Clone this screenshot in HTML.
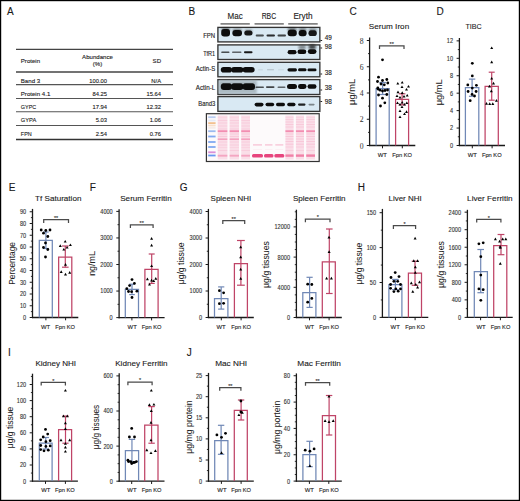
<!DOCTYPE html><html><head><meta charset="utf-8"><style>html,body{margin:0;padding:0;background:#fff;overflow:hidden;}svg{display:block;}text{font-family:"Liberation Sans",sans-serif;}</style></head><body><svg width="520" height="501" viewBox="0 0 520 501" font-family="Liberation Sans, sans-serif">
<defs><filter id="bl" x="-20%" y="-60%" width="140%" height="220%"><feGaussianBlur stdDeviation="0.75"/></filter><filter id="bl2" x="-20%" y="-80%" width="140%" height="260%"><feGaussianBlur stdDeviation="0.9"/></filter><filter id="bl3" x="-10%" y="-10%" width="120%" height="120%"><feGaussianBlur stdDeviation="0.4"/></filter><filter id="bl4" x="-20%" y="-100%" width="140%" height="300%"><feGaussianBlur stdDeviation="0.6"/></filter><filter id="bl5" x="-20%" y="-100%" width="140%" height="300%"><feGaussianBlur stdDeviation="0.75"/></filter></defs>
<rect x="0" y="0" width="520" height="501" fill="#fff"/>
<text x="7" y="14.8" font-size="10.0" text-anchor="start" fill="#1a1a1a" stroke="#1a1a1a" stroke-width="0.12" >A</text>
<text x="188.5" y="14.8" font-size="10.0" text-anchor="start" fill="#1a1a1a" stroke="#1a1a1a" stroke-width="0.12" >B</text>
<text x="349.5" y="14.8" font-size="10.0" text-anchor="start" fill="#1a1a1a" stroke="#1a1a1a" stroke-width="0.12" >C</text>
<text x="436.5" y="14.8" font-size="10.0" text-anchor="start" fill="#1a1a1a" stroke="#1a1a1a" stroke-width="0.12" >D</text>
<text x="8.8" y="190.6" font-size="10.0" text-anchor="start" fill="#1a1a1a" stroke="#1a1a1a" stroke-width="0.12" >E</text>
<text x="89.8" y="190.8" font-size="10.0" text-anchor="start" fill="#1a1a1a" stroke="#1a1a1a" stroke-width="0.12" >F</text>
<text x="179.8" y="190.9" font-size="10.0" text-anchor="start" fill="#1a1a1a" stroke="#1a1a1a" stroke-width="0.12" >G</text>
<text x="357.8" y="190.6" font-size="10.0" text-anchor="start" fill="#1a1a1a" stroke="#1a1a1a" stroke-width="0.12" >H</text>
<text x="8.1" y="355.9" font-size="10.0" text-anchor="start" fill="#1a1a1a" stroke="#1a1a1a" stroke-width="0.12" >I</text>
<text x="186.8" y="355.9" font-size="10.0" text-anchor="start" fill="#1a1a1a" stroke="#1a1a1a" stroke-width="0.12" >J</text>
<line x1="16" y1="49.4" x2="173" y2="49.4" stroke="#444" stroke-width="1.4"/>
<line x1="16" y1="72" x2="173" y2="72" stroke="#444" stroke-width="1.6"/>
<line x1="16" y1="84.6" x2="173" y2="84.6" stroke="#555" stroke-width="1.1"/>
<line x1="16" y1="98.5" x2="173" y2="98.5" stroke="#555" stroke-width="1.1"/>
<line x1="16" y1="111.8" x2="173" y2="111.8" stroke="#555" stroke-width="1.1"/>
<line x1="16" y1="125.5" x2="173" y2="125.5" stroke="#555" stroke-width="1.1"/>
<line x1="16" y1="139.5" x2="173" y2="139.5" stroke="#333" stroke-width="1.4"/>
<text x="20.8" y="63.2" font-size="6.1" text-anchor="start" fill="#222" stroke="#222" stroke-width="0.12" >Protein</text>
<text x="97.5" y="58.7" font-size="6.1" text-anchor="middle" fill="#222" stroke="#222" stroke-width="0.12" >Abundance</text>
<text x="97.5" y="66.2" font-size="6.1" text-anchor="middle" fill="#222" stroke="#222" stroke-width="0.12" >(%)</text>
<text x="156.8" y="63.4" font-size="6.1" text-anchor="middle" fill="#222" stroke="#222" stroke-width="0.12" >SD</text>
<text x="20.8" y="82.5" font-size="6.1" text-anchor="start" fill="#222" stroke="#222" stroke-width="0.12" >Band 3</text>
<text x="107" y="82.5" font-size="5.8" text-anchor="end" fill="#222" stroke="#222" stroke-width="0.12" >100.00</text>
<text x="161" y="82.5" font-size="5.8" text-anchor="end" fill="#222" stroke="#222" stroke-width="0.12" >N/A</text>
<text x="20.8" y="95.6" font-size="6.1" text-anchor="start" fill="#222" stroke="#222" stroke-width="0.12" >Protein 4.1</text>
<text x="107" y="95.6" font-size="5.8" text-anchor="end" fill="#222" stroke="#222" stroke-width="0.12" >84.25</text>
<text x="161" y="95.6" font-size="5.8" text-anchor="end" fill="#222" stroke="#222" stroke-width="0.12" >15.64</text>
<text x="20.8" y="108.9" font-size="6.1" text-anchor="start" fill="#222" stroke="#222" stroke-width="0.12" textLength="15.4" lengthAdjust="spacingAndGlyphs">GYPC</text>
<text x="107" y="108.9" font-size="5.8" text-anchor="end" fill="#222" stroke="#222" stroke-width="0.12" >17.94</text>
<text x="161" y="108.9" font-size="5.8" text-anchor="end" fill="#222" stroke="#222" stroke-width="0.12" >12.32</text>
<text x="20.8" y="122.3" font-size="6.1" text-anchor="start" fill="#222" stroke="#222" stroke-width="0.12" textLength="15.4" lengthAdjust="spacingAndGlyphs">GYPA</text>
<text x="107" y="122.3" font-size="5.8" text-anchor="end" fill="#222" stroke="#222" stroke-width="0.12" >5.03</text>
<text x="161" y="122.3" font-size="5.8" text-anchor="end" fill="#222" stroke="#222" stroke-width="0.12" >1.06</text>
<text x="20.8" y="135.7" font-size="6.1" text-anchor="start" fill="#222" stroke="#222" stroke-width="0.12" textLength="10.9" lengthAdjust="spacingAndGlyphs">FPN</text>
<text x="107" y="135.7" font-size="5.8" text-anchor="end" fill="#222" stroke="#222" stroke-width="0.12" >2.54</text>
<text x="161" y="135.7" font-size="5.8" text-anchor="end" fill="#222" stroke="#222" stroke-width="0.12" >0.76</text>
<text x="235.1" y="19.2" font-size="8.3" text-anchor="middle" fill="#222" stroke="#222" stroke-width="0.12" textLength="15.2" lengthAdjust="spacingAndGlyphs">Mac</text>
<text x="268.9" y="19.2" font-size="8.3" text-anchor="middle" fill="#222" stroke="#222" stroke-width="0.12" textLength="14.5" lengthAdjust="spacingAndGlyphs">RBC</text>
<text x="303" y="19.2" font-size="8.3" text-anchor="middle" fill="#222" stroke="#222" stroke-width="0.12" textLength="19.2" lengthAdjust="spacingAndGlyphs">Eryth</text>
<line x1="220.5" y1="23.9" x2="249.8" y2="23.9" stroke="#666" stroke-width="1.4"/>
<line x1="254.5" y1="23.9" x2="283.8" y2="23.9" stroke="#666" stroke-width="1.4"/>
<line x1="288.2" y1="23.9" x2="317.7" y2="23.9" stroke="#666" stroke-width="1.4"/>
<rect x="217.9" y="27.4" width="101.95" height="14.5" fill="#d9e9f3" stroke="#333" stroke-width="1.35"/>
<text x="215.2" y="37.7" font-size="6.3" text-anchor="end" fill="#222" stroke="#222" stroke-width="0.12" textLength="12.0" lengthAdjust="spacingAndGlyphs">FPN</text>
<rect x="217.9" y="44.9" width="101.95" height="14.6" fill="#d9e9f3" stroke="#333" stroke-width="1.35"/>
<text x="215.2" y="56.4" font-size="6.3" text-anchor="end" fill="#222" stroke="#222" stroke-width="0.12" textLength="12.0" lengthAdjust="spacingAndGlyphs">TfR1</text>
<rect x="217.9" y="62.3" width="101.95" height="14.5" fill="#d9e9f3" stroke="#333" stroke-width="1.35"/>
<text x="215.2" y="71.2" font-size="6.3" text-anchor="end" fill="#222" stroke="#222" stroke-width="0.12" textLength="19.4" lengthAdjust="spacingAndGlyphs">Actin-S</text>
<rect x="217.9" y="79.6" width="101.95" height="14.9" fill="#d9e9f3" stroke="#333" stroke-width="1.35"/>
<text x="215.2" y="89.7" font-size="6.3" text-anchor="end" fill="#222" stroke="#222" stroke-width="0.12" textLength="19.4" lengthAdjust="spacingAndGlyphs">Actin-L</text>
<rect x="217.9" y="96.6" width="101.95" height="14.8" fill="#d9e9f3" stroke="#333" stroke-width="1.35"/>
<text x="215.2" y="105.7" font-size="6.3" text-anchor="end" fill="#222" stroke="#222" stroke-width="0.12" textLength="16.9" lengthAdjust="spacingAndGlyphs">Band3</text>
<line x1="320.45" y1="40.5" x2="322.15" y2="40.5" stroke="#222" stroke-width="1.0"/>
<text x="324.8" y="40.2" font-size="6.4" text-anchor="start" fill="#222" stroke="#222" stroke-width="0.12" >49</text>
<line x1="320.45" y1="48" x2="322.15" y2="48" stroke="#222" stroke-width="1.0"/>
<text x="324.8" y="48.5" font-size="6.4" text-anchor="start" fill="#222" stroke="#222" stroke-width="0.12" >98</text>
<line x1="320.45" y1="74" x2="322.15" y2="74" stroke="#222" stroke-width="1.0"/>
<text x="324.8" y="74.5" font-size="6.4" text-anchor="start" fill="#222" stroke="#222" stroke-width="0.12" >38</text>
<line x1="320.45" y1="90" x2="322.15" y2="90" stroke="#222" stroke-width="1.0"/>
<text x="324.8" y="89.6" font-size="6.4" text-anchor="start" fill="#222" stroke="#222" stroke-width="0.12" >38</text>
<line x1="320.45" y1="101.5" x2="322.15" y2="101.5" stroke="#222" stroke-width="1.0"/>
<text x="324.8" y="103.6" font-size="6.4" text-anchor="start" fill="#222" stroke="#222" stroke-width="0.12" >98</text>
<rect x="221.5" y="27.9" width="8.3" height="3.4" rx="1.7" fill="#0a0a0a" opacity="0.6" filter="url(#bl2)"/>
<rect x="232.6" y="28.9" width="9.2" height="3" rx="1.5" fill="#0a0a0a" opacity="0.5" filter="url(#bl2)"/>
<rect x="244.6" y="29.8" width="7.7" height="2.4" rx="1.2" fill="#0a0a0a" opacity="0.4" filter="url(#bl2)"/>
<rect x="221.2" y="29.1" width="8.8" height="7.4" rx="3" fill="#0a0a0a" opacity="1.0" filter="url(#bl)"/>
<rect x="232.4" y="29.9" width="9.6" height="6.4" rx="3" fill="#0a0a0a" opacity="1.0" filter="url(#bl)"/>
<rect x="244.3" y="30.5" width="8.2" height="5" rx="2.5" fill="#0a0a0a" opacity="0.95" filter="url(#bl)"/>
<rect x="255.7" y="34.6" width="8.2" height="2" rx="1" fill="#0a0a0a" opacity="0.7" filter="url(#bl)"/>
<rect x="266.5" y="34.4" width="8.5" height="2.2" rx="1.1" fill="#0a0a0a" opacity="0.85" filter="url(#bl)"/>
<rect x="277.5" y="34.6" width="8.5" height="2" rx="1" fill="#0a0a0a" opacity="0.75" filter="url(#bl)"/>
<rect x="287.8" y="27.9" width="8.8" height="3.4" rx="1.7" fill="#0a0a0a" opacity="0.6" filter="url(#bl2)"/>
<rect x="298.8" y="28.3" width="7.6" height="3.2" rx="1.6" fill="#0a0a0a" opacity="0.55" filter="url(#bl2)"/>
<rect x="308.7" y="28.7" width="7.9" height="3" rx="1.5" fill="#0a0a0a" opacity="0.5" filter="url(#bl2)"/>
<rect x="287.6" y="29.7" width="9.2" height="6.6" rx="3" fill="#0a0a0a" opacity="1.0" filter="url(#bl)"/>
<rect x="298.6" y="30.1" width="8" height="6.2" rx="3" fill="#0a0a0a" opacity="1.0" filter="url(#bl)"/>
<rect x="308.5" y="30.3" width="8.3" height="5.8" rx="2.9" fill="#0a0a0a" opacity="0.95" filter="url(#bl)"/>
<rect x="221.2" y="51.45" width="8.3" height="1.5" rx="0.75" fill="#0a0a0a" opacity="0.7" filter="url(#bl)"/>
<rect x="232" y="51.6" width="9.5" height="1.4" rx="0.7" fill="#0a0a0a" opacity="0.6" filter="url(#bl)"/>
<rect x="244" y="51.3" width="8.5" height="2" rx="1" fill="#0a0a0a" opacity="0.95" filter="url(#bl)"/>
<rect x="287.6" y="50.1" width="8.9" height="4.2" rx="2.1" fill="#0a0a0a" opacity="1.0" filter="url(#bl)"/>
<rect x="297.5" y="49.5" width="8.8" height="4.6" rx="2.3" fill="#0a0a0a" opacity="1.0" filter="url(#bl)"/>
<rect x="307.8" y="49.2" width="8.7" height="4.8" rx="2.4" fill="#0a0a0a" opacity="1.0" filter="url(#bl)"/>
<rect x="298.5" y="45.3" width="7.5" height="4" rx="2" fill="#0a0a0a" opacity="0.45" filter="url(#bl2)"/>
<rect x="308.5" y="44.8" width="7.5" height="4.4" rx="2.2" fill="#0a0a0a" opacity="0.75" filter="url(#bl2)"/>
<rect x="220.8" y="66.9" width="11.2" height="5.6" rx="2.8" fill="#0a0a0a" opacity="1.0" filter="url(#bl)"/>
<rect x="231.2" y="66.9" width="12.2" height="5.6" rx="2.8" fill="#0a0a0a" opacity="1.0" filter="url(#bl)"/>
<rect x="242.6" y="67" width="12" height="5.4" rx="2.7" fill="#0a0a0a" opacity="1.0" filter="url(#bl)"/>
<rect x="258" y="69.5" width="5" height="0.8" rx="0.4" fill="#0a0a0a" opacity="0.12" filter="url(#bl)"/>
<rect x="267" y="69.3" width="7" height="1" rx="0.5" fill="#0a0a0a" opacity="0.2" filter="url(#bl)"/>
<rect x="278" y="69.5" width="6" height="0.8" rx="0.4" fill="#0a0a0a" opacity="0.1" filter="url(#bl)"/>
<rect x="287.5" y="68.2" width="9.5" height="3.2" rx="1.6" fill="#0a0a0a" opacity="1.0" filter="url(#bl)"/>
<rect x="298" y="68.3" width="8.5" height="3" rx="1.5" fill="#0a0a0a" opacity="1.0" filter="url(#bl)"/>
<rect x="307.5" y="68.5" width="9" height="2.8" rx="1.4" fill="#0a0a0a" opacity="1.0" filter="url(#bl)"/>
<rect x="218.3" y="80.4" width="38.5" height="13.4" fill="#8d9aa0" opacity="0.6" filter="url(#bl2)"/>
<rect x="220.8" y="83.2" width="11.2" height="6.8" rx="3" fill="#0a0a0a" opacity="1.0" filter="url(#bl)"/>
<rect x="231.2" y="83.2" width="12.2" height="6.8" rx="3" fill="#0a0a0a" opacity="1.0" filter="url(#bl)"/>
<rect x="242.6" y="83.3" width="12.4" height="6.6" rx="3" fill="#0a0a0a" opacity="1.0" filter="url(#bl)"/>
<rect x="255.5" y="86.4" width="8.5" height="1.6" rx="0.8" fill="#0a0a0a" opacity="0.7" filter="url(#bl)"/>
<rect x="266" y="86.2" width="8.5" height="1.8" rx="0.9" fill="#0a0a0a" opacity="0.75" filter="url(#bl)"/>
<rect x="277.5" y="86.4" width="8" height="1.6" rx="0.8" fill="#0a0a0a" opacity="0.6" filter="url(#bl)"/>
<rect x="287" y="84" width="10" height="5" rx="2.5" fill="#0a0a0a" opacity="1.0" filter="url(#bl)"/>
<rect x="298" y="84.1" width="8.5" height="4.8" rx="2.4" fill="#0a0a0a" opacity="1.0" filter="url(#bl)"/>
<rect x="307.5" y="84.2" width="9" height="4.6" rx="2.3" fill="#0a0a0a" opacity="1.0" filter="url(#bl)"/>
<rect x="254.6" y="102.8" width="8.9" height="3.6" rx="1.8" fill="#0a0a0a" opacity="1.0" filter="url(#bl)"/>
<rect x="265.5" y="102.7" width="8.7" height="3.6" rx="1.8" fill="#0a0a0a" opacity="1.0" filter="url(#bl)"/>
<rect x="276" y="102.8" width="9" height="3.4" rx="1.7" fill="#0a0a0a" opacity="1.0" filter="url(#bl)"/>
<rect x="287.2" y="102.8" width="8.3" height="3.4" rx="1.7" fill="#0a0a0a" opacity="1.0" filter="url(#bl)"/>
<rect x="298" y="103.5" width="7.5" height="2.2" rx="1.1" fill="#0a0a0a" opacity="0.9" filter="url(#bl)"/>
<rect x="308.5" y="103.8" width="6.1" height="1.6" rx="0.8" fill="#0a0a0a" opacity="0.45" filter="url(#bl)"/>
<rect x="206.4" y="113.7" width="112.8" height="47.8" fill="#fdfafb" stroke="#333" stroke-width="1.2"/>
<rect x="208.2" y="116.3" width="7.4" height="1.8" fill="#9ab8ee" opacity="0.68" filter="url(#bl4)"/>
<rect x="208.2" y="119.6" width="7.4" height="1.8" fill="#c8d8f0" opacity="0.42" filter="url(#bl4)"/>
<rect x="208.2" y="122.2" width="7.4" height="1.8" fill="#f0b070" opacity="0.77" filter="url(#bl4)"/>
<rect x="208.2" y="124.6" width="7.4" height="1.8" fill="#f4c8a0" opacity="0.51" filter="url(#bl4)"/>
<rect x="208.2" y="127" width="7.4" height="1.8" fill="#e8d4c8" opacity="0.34" filter="url(#bl4)"/>
<rect x="208.2" y="130.3" width="7.4" height="1.8" fill="#80a8ec" opacity="0.77" filter="url(#bl4)"/>
<rect x="208.2" y="135.6" width="7.4" height="1.8" fill="#6c9cf0" opacity="0.85" filter="url(#bl4)"/>
<rect x="208.2" y="141.1" width="7.4" height="1.8" fill="#6c9cf0" opacity="0.85" filter="url(#bl4)"/>
<rect x="208.2" y="146.1" width="7.4" height="1.8" fill="#6c9cf0" opacity="0.85" filter="url(#bl4)"/>
<rect x="208.2" y="151.4" width="7.4" height="1.8" fill="#d070d0" opacity="0.77" filter="url(#bl4)"/>
<rect x="208.2" y="154.6" width="7.4" height="1.8" fill="#5088f0" opacity="0.85" filter="url(#bl4)"/>
<rect x="217.7" y="115.5" width="9.7" height="44" fill="#f9d3e1" opacity="0.7" filter="url(#bl3)"/>
<rect x="217.7" y="116.8" width="9.7" height="1" fill="#ee5a8e" opacity="0.08" filter="url(#bl4)"/>
<rect x="217.7" y="120" width="9.7" height="1" fill="#ee5a8e" opacity="0.12" filter="url(#bl4)"/>
<rect x="217.7" y="122.5" width="9.7" height="1" fill="#ee5a8e" opacity="0.12" filter="url(#bl4)"/>
<rect x="217.7" y="125.5" width="9.7" height="1" fill="#ee5a8e" opacity="0.12" filter="url(#bl4)"/>
<rect x="217.7" y="128.5" width="9.7" height="1" fill="#ee5a8e" opacity="0.12" filter="url(#bl4)"/>
<rect x="217.7" y="130.25" width="9.7" height="1.9" fill="#ee5a8e" opacity="0.6" filter="url(#bl4)"/>
<rect x="217.7" y="133.5" width="9.7" height="1" fill="#ee5a8e" opacity="0.14" filter="url(#bl4)"/>
<rect x="217.7" y="136" width="9.7" height="1" fill="#ee5a8e" opacity="0.14" filter="url(#bl4)"/>
<rect x="217.7" y="138.4" width="9.7" height="1.6" fill="#ee5a8e" opacity="0.45" filter="url(#bl4)"/>
<rect x="217.7" y="141.5" width="9.7" height="1" fill="#ee5a8e" opacity="0.12" filter="url(#bl4)"/>
<rect x="217.7" y="144.5" width="9.7" height="1" fill="#ee5a8e" opacity="0.12" filter="url(#bl4)"/>
<rect x="217.7" y="147" width="9.7" height="1" fill="#ee5a8e" opacity="0.08" filter="url(#bl4)"/>
<rect x="217.7" y="150" width="9.7" height="1" fill="#ee5a8e" opacity="0.12" filter="url(#bl4)"/>
<rect x="217.7" y="154.75" width="9.7" height="1.9" fill="#ee5a8e" opacity="0.42" filter="url(#bl4)"/>
<rect x="229.6" y="115.5" width="9.4" height="44" fill="#f9d3e1" opacity="0.7" filter="url(#bl3)"/>
<rect x="229.6" y="116.8" width="9.4" height="1" fill="#ee5a8e" opacity="0.08" filter="url(#bl4)"/>
<rect x="229.6" y="120" width="9.4" height="1" fill="#ee5a8e" opacity="0.12" filter="url(#bl4)"/>
<rect x="229.6" y="122.5" width="9.4" height="1" fill="#ee5a8e" opacity="0.12" filter="url(#bl4)"/>
<rect x="229.6" y="125.5" width="9.4" height="1" fill="#ee5a8e" opacity="0.12" filter="url(#bl4)"/>
<rect x="229.6" y="128.5" width="9.4" height="1" fill="#ee5a8e" opacity="0.12" filter="url(#bl4)"/>
<rect x="229.6" y="130.25" width="9.4" height="1.9" fill="#ee5a8e" opacity="0.6" filter="url(#bl4)"/>
<rect x="229.6" y="133.5" width="9.4" height="1" fill="#ee5a8e" opacity="0.14" filter="url(#bl4)"/>
<rect x="229.6" y="136" width="9.4" height="1" fill="#ee5a8e" opacity="0.14" filter="url(#bl4)"/>
<rect x="229.6" y="138.4" width="9.4" height="1.6" fill="#ee5a8e" opacity="0.45" filter="url(#bl4)"/>
<rect x="229.6" y="141.5" width="9.4" height="1" fill="#ee5a8e" opacity="0.12" filter="url(#bl4)"/>
<rect x="229.6" y="144.5" width="9.4" height="1" fill="#ee5a8e" opacity="0.12" filter="url(#bl4)"/>
<rect x="229.6" y="147" width="9.4" height="1" fill="#ee5a8e" opacity="0.08" filter="url(#bl4)"/>
<rect x="229.6" y="150" width="9.4" height="1" fill="#ee5a8e" opacity="0.12" filter="url(#bl4)"/>
<rect x="229.6" y="154.75" width="9.4" height="1.9" fill="#ee5a8e" opacity="0.42" filter="url(#bl4)"/>
<rect x="241.2" y="115.5" width="8.8" height="44" fill="#f9d3e1" opacity="0.7" filter="url(#bl3)"/>
<rect x="241.2" y="116.8" width="8.8" height="1" fill="#ee5a8e" opacity="0.08" filter="url(#bl4)"/>
<rect x="241.2" y="120" width="8.8" height="1" fill="#ee5a8e" opacity="0.12" filter="url(#bl4)"/>
<rect x="241.2" y="122.5" width="8.8" height="1" fill="#ee5a8e" opacity="0.12" filter="url(#bl4)"/>
<rect x="241.2" y="125.5" width="8.8" height="1" fill="#ee5a8e" opacity="0.12" filter="url(#bl4)"/>
<rect x="241.2" y="128.5" width="8.8" height="1" fill="#ee5a8e" opacity="0.12" filter="url(#bl4)"/>
<rect x="241.2" y="130.25" width="8.8" height="1.9" fill="#ee5a8e" opacity="0.6" filter="url(#bl4)"/>
<rect x="241.2" y="133.5" width="8.8" height="1" fill="#ee5a8e" opacity="0.14" filter="url(#bl4)"/>
<rect x="241.2" y="136" width="8.8" height="1" fill="#ee5a8e" opacity="0.14" filter="url(#bl4)"/>
<rect x="241.2" y="138.4" width="8.8" height="1.6" fill="#ee5a8e" opacity="0.45" filter="url(#bl4)"/>
<rect x="241.2" y="141.5" width="8.8" height="1" fill="#ee5a8e" opacity="0.12" filter="url(#bl4)"/>
<rect x="241.2" y="144.5" width="8.8" height="1" fill="#ee5a8e" opacity="0.12" filter="url(#bl4)"/>
<rect x="241.2" y="147" width="8.8" height="1" fill="#ee5a8e" opacity="0.08" filter="url(#bl4)"/>
<rect x="241.2" y="150" width="8.8" height="1" fill="#ee5a8e" opacity="0.12" filter="url(#bl4)"/>
<rect x="241.2" y="154.75" width="8.8" height="1.9" fill="#ee5a8e" opacity="0.42" filter="url(#bl4)"/>
<rect x="285.4" y="115.5" width="8.2" height="44" fill="#f9d3e1" opacity="0.7" filter="url(#bl3)"/>
<rect x="285.4" y="116.8" width="8.2" height="1" fill="#ee5a8e" opacity="0.1" filter="url(#bl4)"/>
<rect x="285.4" y="119" width="8.2" height="1" fill="#ee5a8e" opacity="0.12" filter="url(#bl4)"/>
<rect x="285.4" y="121.5" width="8.2" height="1" fill="#ee5a8e" opacity="0.14" filter="url(#bl4)"/>
<rect x="285.4" y="124" width="8.2" height="1" fill="#ee5a8e" opacity="0.14" filter="url(#bl4)"/>
<rect x="285.4" y="126.5" width="8.2" height="1" fill="#ee5a8e" opacity="0.14" filter="url(#bl4)"/>
<rect x="285.4" y="130.25" width="8.2" height="1.9" fill="#ee5a8e" opacity="0.6" filter="url(#bl4)"/>
<rect x="285.4" y="133.5" width="8.2" height="1" fill="#ee5a8e" opacity="0.16" filter="url(#bl4)"/>
<rect x="285.4" y="136" width="8.2" height="1" fill="#ee5a8e" opacity="0.16" filter="url(#bl4)"/>
<rect x="285.4" y="138.5" width="8.2" height="1" fill="#ee5a8e" opacity="0.16" filter="url(#bl4)"/>
<rect x="285.4" y="141" width="8.2" height="1" fill="#ee5a8e" opacity="0.16" filter="url(#bl4)"/>
<rect x="285.4" y="143.7" width="8.2" height="1" fill="#ee5a8e" opacity="0.18" filter="url(#bl4)"/>
<rect x="285.4" y="146.5" width="8.2" height="1" fill="#ee5a8e" opacity="0.12" filter="url(#bl4)"/>
<rect x="285.4" y="150" width="8.2" height="1" fill="#ee5a8e" opacity="0.1" filter="url(#bl4)"/>
<rect x="285.4" y="154.4" width="8.2" height="2.4" fill="#ee5a8e" opacity="0.7" filter="url(#bl4)"/>
<rect x="295.9" y="115.5" width="8.1" height="44" fill="#f9d3e1" opacity="0.7" filter="url(#bl3)"/>
<rect x="295.9" y="116.8" width="8.1" height="1" fill="#ee5a8e" opacity="0.1" filter="url(#bl4)"/>
<rect x="295.9" y="119" width="8.1" height="1" fill="#ee5a8e" opacity="0.12" filter="url(#bl4)"/>
<rect x="295.9" y="121.5" width="8.1" height="1" fill="#ee5a8e" opacity="0.14" filter="url(#bl4)"/>
<rect x="295.9" y="124" width="8.1" height="1" fill="#ee5a8e" opacity="0.14" filter="url(#bl4)"/>
<rect x="295.9" y="126.5" width="8.1" height="1" fill="#ee5a8e" opacity="0.14" filter="url(#bl4)"/>
<rect x="295.9" y="130.25" width="8.1" height="1.9" fill="#ee5a8e" opacity="0.6" filter="url(#bl4)"/>
<rect x="295.9" y="133.5" width="8.1" height="1" fill="#ee5a8e" opacity="0.16" filter="url(#bl4)"/>
<rect x="295.9" y="136" width="8.1" height="1" fill="#ee5a8e" opacity="0.16" filter="url(#bl4)"/>
<rect x="295.9" y="138.5" width="8.1" height="1" fill="#ee5a8e" opacity="0.16" filter="url(#bl4)"/>
<rect x="295.9" y="141" width="8.1" height="1" fill="#ee5a8e" opacity="0.16" filter="url(#bl4)"/>
<rect x="295.9" y="143.7" width="8.1" height="1" fill="#ee5a8e" opacity="0.18" filter="url(#bl4)"/>
<rect x="295.9" y="146.5" width="8.1" height="1" fill="#ee5a8e" opacity="0.12" filter="url(#bl4)"/>
<rect x="295.9" y="150" width="8.1" height="1" fill="#ee5a8e" opacity="0.1" filter="url(#bl4)"/>
<rect x="295.9" y="154.4" width="8.1" height="2.4" fill="#ee5a8e" opacity="0.7" filter="url(#bl4)"/>
<rect x="306.2" y="115.5" width="8.8" height="44" fill="#f9d3e1" opacity="0.7" filter="url(#bl3)"/>
<rect x="306.2" y="116.8" width="8.8" height="1" fill="#ee5a8e" opacity="0.1" filter="url(#bl4)"/>
<rect x="306.2" y="119" width="8.8" height="1" fill="#ee5a8e" opacity="0.12" filter="url(#bl4)"/>
<rect x="306.2" y="121.5" width="8.8" height="1" fill="#ee5a8e" opacity="0.14" filter="url(#bl4)"/>
<rect x="306.2" y="124" width="8.8" height="1" fill="#ee5a8e" opacity="0.14" filter="url(#bl4)"/>
<rect x="306.2" y="126.5" width="8.8" height="1" fill="#ee5a8e" opacity="0.14" filter="url(#bl4)"/>
<rect x="306.2" y="130.25" width="8.8" height="1.9" fill="#ee5a8e" opacity="0.6" filter="url(#bl4)"/>
<rect x="306.2" y="133.5" width="8.8" height="1" fill="#ee5a8e" opacity="0.16" filter="url(#bl4)"/>
<rect x="306.2" y="136" width="8.8" height="1" fill="#ee5a8e" opacity="0.16" filter="url(#bl4)"/>
<rect x="306.2" y="138.5" width="8.8" height="1" fill="#ee5a8e" opacity="0.16" filter="url(#bl4)"/>
<rect x="306.2" y="141" width="8.8" height="1" fill="#ee5a8e" opacity="0.16" filter="url(#bl4)"/>
<rect x="306.2" y="143.7" width="8.8" height="1" fill="#ee5a8e" opacity="0.18" filter="url(#bl4)"/>
<rect x="306.2" y="146.5" width="8.8" height="1" fill="#ee5a8e" opacity="0.12" filter="url(#bl4)"/>
<rect x="306.2" y="150" width="8.8" height="1" fill="#ee5a8e" opacity="0.1" filter="url(#bl4)"/>
<rect x="306.2" y="154.4" width="8.8" height="2.4" fill="#ee5a8e" opacity="0.7" filter="url(#bl4)"/>
<rect x="253" y="144.25" width="9" height="1.3" fill="#ee5a8e" opacity="0.35" filter="url(#bl4)"/>
<rect x="252" y="153.9" width="11" height="3.7" rx="1.5" fill="#e63c78" opacity="0.95" filter="url(#bl4)"/>
<rect x="253" y="149" width="9" height="1" fill="#ee5a8e" opacity="0.06" filter="url(#bl4)"/>
<rect x="265" y="144.25" width="7.5" height="1.3" fill="#ee5a8e" opacity="0.35" filter="url(#bl4)"/>
<rect x="264" y="153.9" width="9.5" height="3.7" rx="1.5" fill="#e63c78" opacity="0.95" filter="url(#bl4)"/>
<rect x="265" y="149" width="7.5" height="1" fill="#ee5a8e" opacity="0.06" filter="url(#bl4)"/>
<rect x="275.3" y="144.25" width="8" height="1.3" fill="#ee5a8e" opacity="0.35" filter="url(#bl4)"/>
<rect x="274.3" y="153.9" width="10" height="3.7" rx="1.5" fill="#e63c78" opacity="0.95" filter="url(#bl4)"/>
<rect x="275.3" y="149" width="8" height="1" fill="#ee5a8e" opacity="0.06" filter="url(#bl4)"/>
<line x1="369.6" y1="37.5" x2="369.6" y2="146.1" stroke="#1a1a1a" stroke-width="1.3"/>
<line x1="369" y1="145.5" x2="415.3" y2="145.5" stroke="#1a1a1a" stroke-width="1.3"/>
<line x1="366.8" y1="145.5" x2="369.6" y2="145.5" stroke="#1a1a1a" stroke-width="1.0"/>
<text x="363.7" y="148.7" font-size="7.7" text-anchor="end" fill="#3a3a3a" stroke="#3a3a3a" stroke-width="0.05" style="font-family:Liberation Serif">0</text>
<line x1="366.8" y1="119.25" x2="369.6" y2="119.25" stroke="#1a1a1a" stroke-width="1.0"/>
<text x="363.7" y="122.45" font-size="7.7" text-anchor="end" fill="#3a3a3a" stroke="#3a3a3a" stroke-width="0.05" style="font-family:Liberation Serif">2</text>
<line x1="366.8" y1="93" x2="369.6" y2="93" stroke="#1a1a1a" stroke-width="1.0"/>
<text x="363.7" y="96.2" font-size="7.7" text-anchor="end" fill="#3a3a3a" stroke="#3a3a3a" stroke-width="0.05" style="font-family:Liberation Serif">4</text>
<line x1="366.8" y1="66.75" x2="369.6" y2="66.75" stroke="#1a1a1a" stroke-width="1.0"/>
<text x="363.7" y="69.95" font-size="7.7" text-anchor="end" fill="#3a3a3a" stroke="#3a3a3a" stroke-width="0.05" style="font-family:Liberation Serif">6</text>
<line x1="366.8" y1="40.5" x2="369.6" y2="40.5" stroke="#1a1a1a" stroke-width="1.0"/>
<text x="363.7" y="43.7" font-size="7.7" text-anchor="end" fill="#3a3a3a" stroke="#3a3a3a" stroke-width="0.05" style="font-family:Liberation Serif">8</text>
<line x1="368" y1="132.38" x2="369.6" y2="132.38" stroke="#1a1a1a" stroke-width="0.9"/>
<line x1="368" y1="106.12" x2="369.6" y2="106.12" stroke="#1a1a1a" stroke-width="0.9"/>
<line x1="368" y1="79.88" x2="369.6" y2="79.88" stroke="#1a1a1a" stroke-width="0.9"/>
<line x1="368" y1="53.62" x2="369.6" y2="53.62" stroke="#1a1a1a" stroke-width="0.9"/>
<path d="M376.1 145.5V88.5H389.2V145.5" fill="none" stroke="#7088b6" stroke-width="1.25"/>
<path d="M395.6 145.5V99.3H408.6V145.5" fill="none" stroke="#bf4467" stroke-width="1.25"/>
<line x1="382.5" y1="145.5" x2="382.5" y2="148.3" stroke="#1a1a1a" stroke-width="1.0"/>
<line x1="402.3" y1="145.5" x2="402.3" y2="148.3" stroke="#1a1a1a" stroke-width="1.0"/>
<line x1="382.65" y1="82.5" x2="382.65" y2="94.5" stroke="#7088b6" stroke-width="1.2"/>
<line x1="379.35" y1="82.5" x2="385.95" y2="82.5" stroke="#7088b6" stroke-width="1.2"/>
<line x1="379.35" y1="94.5" x2="385.95" y2="94.5" stroke="#7088b6" stroke-width="1.2"/>
<line x1="402.1" y1="93.8" x2="402.1" y2="104.8" stroke="#bf4467" stroke-width="1.2"/>
<line x1="398.8" y1="93.8" x2="405.4" y2="93.8" stroke="#bf4467" stroke-width="1.2"/>
<line x1="398.8" y1="104.8" x2="405.4" y2="104.8" stroke="#bf4467" stroke-width="1.2"/>
<circle cx="382.5" cy="59.8" r="1.4" fill="#000"/>
<circle cx="378.5" cy="77.2" r="1.4" fill="#000"/>
<circle cx="382.5" cy="80.5" r="1.4" fill="#000"/>
<circle cx="386.8" cy="79.5" r="1.4" fill="#000"/>
<circle cx="377.5" cy="81.5" r="1.4" fill="#000"/>
<circle cx="387.8" cy="83" r="1.4" fill="#000"/>
<circle cx="381" cy="84" r="1.4" fill="#000"/>
<circle cx="384.3" cy="84.8" r="1.4" fill="#000"/>
<circle cx="377.8" cy="88" r="1.4" fill="#000"/>
<circle cx="380" cy="90.2" r="1.4" fill="#000"/>
<circle cx="382.5" cy="91" r="1.4" fill="#000"/>
<circle cx="385" cy="90.5" r="1.4" fill="#000"/>
<circle cx="387.5" cy="90" r="1.4" fill="#000"/>
<circle cx="378" cy="89" r="1.4" fill="#000"/>
<circle cx="378.5" cy="95" r="1.4" fill="#000"/>
<circle cx="386.8" cy="94.5" r="1.4" fill="#000"/>
<circle cx="382.5" cy="98.2" r="1.4" fill="#000"/>
<circle cx="384.8" cy="102.8" r="1.4" fill="#000"/>
<circle cx="380.5" cy="106" r="1.4" fill="#000"/>
<path d="M397.8 81.88L399.3 84.58L396.3 84.58Z" fill="#000"/>
<path d="M402.2 80.88L403.7 83.58L400.7 83.58Z" fill="#000"/>
<path d="M408.5 84.88L410 87.58L407 87.58Z" fill="#000"/>
<path d="M402 85.38L403.5 88.08L400.5 88.08Z" fill="#000"/>
<path d="M406.5 87.88L408 90.58L405 90.58Z" fill="#000"/>
<path d="M398 90.58L399.5 93.28L396.5 93.28Z" fill="#000"/>
<path d="M402.2 91.18L403.7 93.88L400.7 93.88Z" fill="#000"/>
<path d="M397 94.38L398.5 97.08L395.5 97.08Z" fill="#000"/>
<path d="M407.2 93.88L408.7 96.58L405.7 96.58Z" fill="#000"/>
<path d="M400 95.88L401.5 98.58L398.5 98.58Z" fill="#000"/>
<path d="M404 94.88L405.5 97.58L402.5 97.58Z" fill="#000"/>
<path d="M397.5 101.38L399 104.08L396 104.08Z" fill="#000"/>
<path d="M400 102.88L401.5 105.58L398.5 105.58Z" fill="#000"/>
<path d="M402.2 100.88L403.7 103.58L400.7 103.58Z" fill="#000"/>
<path d="M404.5 102.88L406 105.58L403 105.58Z" fill="#000"/>
<path d="M406.8 101.38L408.3 104.08L405.3 104.08Z" fill="#000"/>
<path d="M402 105.38L403.5 108.08L400.5 108.08Z" fill="#000"/>
<path d="M400 109.38L401.5 112.08L398.5 112.08Z" fill="#000"/>
<path d="M406.5 110.18L408 112.88L405 112.88Z" fill="#000"/>
<path d="M404.5 112.38L406 115.08L403 115.08Z" fill="#000"/>
<path d="M400 115.38L401.5 118.08L398.5 118.08Z" fill="#000"/>
<path d="M379.5 49V45.8H404V49" fill="none" stroke="#4a4a4a" stroke-width="1.25"/>
<text x="391.75" y="46.1" font-size="5.5" text-anchor="middle" fill="#333" stroke="#333" stroke-width="0.12" >**</text>
<text x="368.8" y="28.5" font-size="8.1" text-anchor="start" fill="#222" stroke="#222" stroke-width="0.12" textLength="40.4" lengthAdjust="spacingAndGlyphs">Serum Iron</text>
<text x="0" y="0" font-size="9.3" text-anchor="middle" fill="#222" stroke="#222" stroke-width="0.04" transform="translate(354.6,91.9) rotate(-90)">μg/mL</text>
<text x="382.3" y="156.8" font-size="6.0" text-anchor="middle" fill="#222" stroke="#222" stroke-width="0.12" textLength="9.2" lengthAdjust="spacingAndGlyphs">WT</text>
<text x="402.2" y="156.8" font-size="6.0" text-anchor="middle" fill="#222" stroke="#222" stroke-width="0.12" textLength="19.7" lengthAdjust="spacingAndGlyphs">Fpn KO</text>
<line x1="459.4" y1="38" x2="459.4" y2="146.1" stroke="#1a1a1a" stroke-width="1.3"/>
<line x1="458.8" y1="145.5" x2="505" y2="145.5" stroke="#1a1a1a" stroke-width="1.3"/>
<line x1="456.6" y1="145.5" x2="459.4" y2="145.5" stroke="#1a1a1a" stroke-width="1.0"/>
<text x="453" y="147.9" font-size="6.3" text-anchor="end" fill="#333" stroke="#333" stroke-width="0.12" textLength="3.1" lengthAdjust="spacingAndGlyphs">0</text>
<line x1="456.6" y1="128.06" x2="459.4" y2="128.06" stroke="#1a1a1a" stroke-width="1.0"/>
<text x="453" y="130.46" font-size="6.3" text-anchor="end" fill="#333" stroke="#333" stroke-width="0.12" textLength="3.1" lengthAdjust="spacingAndGlyphs">2</text>
<line x1="456.6" y1="110.62" x2="459.4" y2="110.62" stroke="#1a1a1a" stroke-width="1.0"/>
<text x="453" y="113.02" font-size="6.3" text-anchor="end" fill="#333" stroke="#333" stroke-width="0.12" textLength="3.1" lengthAdjust="spacingAndGlyphs">4</text>
<line x1="456.6" y1="93.18" x2="459.4" y2="93.18" stroke="#1a1a1a" stroke-width="1.0"/>
<text x="453" y="95.58" font-size="6.3" text-anchor="end" fill="#333" stroke="#333" stroke-width="0.12" textLength="3.1" lengthAdjust="spacingAndGlyphs">6</text>
<line x1="456.6" y1="75.74" x2="459.4" y2="75.74" stroke="#1a1a1a" stroke-width="1.0"/>
<text x="453" y="78.14" font-size="6.3" text-anchor="end" fill="#333" stroke="#333" stroke-width="0.12" textLength="3.1" lengthAdjust="spacingAndGlyphs">8</text>
<line x1="456.6" y1="58.3" x2="459.4" y2="58.3" stroke="#1a1a1a" stroke-width="1.0"/>
<text x="453" y="60.7" font-size="6.3" text-anchor="end" fill="#333" stroke="#333" stroke-width="0.12" textLength="6.2" lengthAdjust="spacingAndGlyphs">10</text>
<line x1="456.6" y1="40.86" x2="459.4" y2="40.86" stroke="#1a1a1a" stroke-width="1.0"/>
<text x="453" y="43.26" font-size="6.3" text-anchor="end" fill="#333" stroke="#333" stroke-width="0.12" textLength="6.2" lengthAdjust="spacingAndGlyphs">12</text>
<line x1="457.8" y1="136.78" x2="459.4" y2="136.78" stroke="#1a1a1a" stroke-width="0.9"/>
<line x1="457.8" y1="119.34" x2="459.4" y2="119.34" stroke="#1a1a1a" stroke-width="0.9"/>
<line x1="457.8" y1="101.9" x2="459.4" y2="101.9" stroke="#1a1a1a" stroke-width="0.9"/>
<line x1="457.8" y1="84.46" x2="459.4" y2="84.46" stroke="#1a1a1a" stroke-width="0.9"/>
<line x1="457.8" y1="67.02" x2="459.4" y2="67.02" stroke="#1a1a1a" stroke-width="0.9"/>
<line x1="457.8" y1="49.58" x2="459.4" y2="49.58" stroke="#1a1a1a" stroke-width="0.9"/>
<path d="M465.4 145.5V87.7H478.8V145.5" fill="none" stroke="#7088b6" stroke-width="1.25"/>
<path d="M485.1 145.5V86.3H498.3V145.5" fill="none" stroke="#bf4467" stroke-width="1.25"/>
<line x1="472.3" y1="145.5" x2="472.3" y2="148.3" stroke="#1a1a1a" stroke-width="1.0"/>
<line x1="492.1" y1="145.5" x2="492.1" y2="148.3" stroke="#1a1a1a" stroke-width="1.0"/>
<line x1="472.1" y1="79.1" x2="472.1" y2="96.3" stroke="#7088b6" stroke-width="1.2"/>
<line x1="468.9" y1="79.1" x2="475.3" y2="79.1" stroke="#7088b6" stroke-width="1.2"/>
<line x1="468.9" y1="96.3" x2="475.3" y2="96.3" stroke="#7088b6" stroke-width="1.2"/>
<line x1="491.7" y1="72.2" x2="491.7" y2="100.2" stroke="#bf4467" stroke-width="1.2"/>
<line x1="488.7" y1="72.2" x2="494.7" y2="72.2" stroke="#bf4467" stroke-width="1.2"/>
<line x1="488.7" y1="100.2" x2="494.7" y2="100.2" stroke="#bf4467" stroke-width="1.2"/>
<circle cx="472.3" cy="63.3" r="1.4" fill="#000"/>
<circle cx="472.3" cy="75.9" r="1.4" fill="#000"/>
<circle cx="467.8" cy="84.9" r="1.4" fill="#000"/>
<circle cx="476.4" cy="85.3" r="1.4" fill="#000"/>
<circle cx="472.3" cy="88.1" r="1.4" fill="#000"/>
<circle cx="468.1" cy="91.5" r="1.4" fill="#000"/>
<circle cx="476.1" cy="91.5" r="1.4" fill="#000"/>
<circle cx="472.1" cy="94.4" r="1.4" fill="#000"/>
<circle cx="474.5" cy="96" r="1.4" fill="#000"/>
<circle cx="470.2" cy="100.7" r="1.4" fill="#000"/>
<path d="M491.7 46.38L493.2 49.08L490.2 49.08Z" fill="#000"/>
<path d="M491.7 60.48L493.2 63.18L490.2 63.18Z" fill="#000"/>
<path d="M491.7 76.88L493.2 79.58L490.2 79.58Z" fill="#000"/>
<path d="M493.5 81.68L495 84.38L492 84.38Z" fill="#000"/>
<path d="M489.5 84.68L491 87.38L488 87.38Z" fill="#000"/>
<path d="M491.3 89.58L492.8 92.28L489.8 92.28Z" fill="#000"/>
<path d="M486.5 101.98L488 104.68L485 104.68Z" fill="#000"/>
<path d="M489.7 102.28L491.2 104.98L488.2 104.98Z" fill="#000"/>
<path d="M492.8 102.28L494.3 104.98L491.3 104.98Z" fill="#000"/>
<path d="M496.4 99.08L497.9 101.78L494.9 101.78Z" fill="#000"/>
<text x="465.4" y="28.5" font-size="8.1" text-anchor="start" fill="#222" stroke="#222" stroke-width="0.12" textLength="16.2" lengthAdjust="spacingAndGlyphs">TIBC</text>
<text x="0" y="0" font-size="9.3" text-anchor="middle" fill="#222" stroke="#222" stroke-width="0.04" transform="translate(441.5,92.3) rotate(-90)">μg/mL</text>
<text x="472.3" y="156.8" font-size="6.0" text-anchor="middle" fill="#222" stroke="#222" stroke-width="0.12" textLength="9.2" lengthAdjust="spacingAndGlyphs">WT</text>
<text x="491.8" y="156.8" font-size="6.0" text-anchor="middle" fill="#222" stroke="#222" stroke-width="0.12" textLength="19.7" lengthAdjust="spacingAndGlyphs">Fpn KO</text>
<line x1="32.5" y1="208.9" x2="32.5" y2="318.1" stroke="#1a1a1a" stroke-width="1.3"/>
<line x1="31.9" y1="317.5" x2="78.3" y2="317.5" stroke="#1a1a1a" stroke-width="1.3"/>
<line x1="29.7" y1="317.5" x2="32.5" y2="317.5" stroke="#1a1a1a" stroke-width="1.0"/>
<text x="26.1" y="319.9" font-size="6.3" text-anchor="end" fill="#333" stroke="#333" stroke-width="0.12" textLength="3.1" lengthAdjust="spacingAndGlyphs">0</text>
<line x1="29.7" y1="305.75" x2="32.5" y2="305.75" stroke="#1a1a1a" stroke-width="1.0"/>
<text x="26.1" y="308.15" font-size="6.3" text-anchor="end" fill="#333" stroke="#333" stroke-width="0.12" textLength="6.2" lengthAdjust="spacingAndGlyphs">10</text>
<line x1="29.7" y1="294" x2="32.5" y2="294" stroke="#1a1a1a" stroke-width="1.0"/>
<text x="26.1" y="296.4" font-size="6.3" text-anchor="end" fill="#333" stroke="#333" stroke-width="0.12" textLength="6.2" lengthAdjust="spacingAndGlyphs">20</text>
<line x1="29.7" y1="282.25" x2="32.5" y2="282.25" stroke="#1a1a1a" stroke-width="1.0"/>
<text x="26.1" y="284.65" font-size="6.3" text-anchor="end" fill="#333" stroke="#333" stroke-width="0.12" textLength="6.2" lengthAdjust="spacingAndGlyphs">30</text>
<line x1="29.7" y1="270.5" x2="32.5" y2="270.5" stroke="#1a1a1a" stroke-width="1.0"/>
<text x="26.1" y="272.9" font-size="6.3" text-anchor="end" fill="#333" stroke="#333" stroke-width="0.12" textLength="6.2" lengthAdjust="spacingAndGlyphs">40</text>
<line x1="29.7" y1="258.75" x2="32.5" y2="258.75" stroke="#1a1a1a" stroke-width="1.0"/>
<text x="26.1" y="261.15" font-size="6.3" text-anchor="end" fill="#333" stroke="#333" stroke-width="0.12" textLength="6.2" lengthAdjust="spacingAndGlyphs">50</text>
<line x1="29.7" y1="247" x2="32.5" y2="247" stroke="#1a1a1a" stroke-width="1.0"/>
<text x="26.1" y="249.4" font-size="6.3" text-anchor="end" fill="#333" stroke="#333" stroke-width="0.12" textLength="6.2" lengthAdjust="spacingAndGlyphs">60</text>
<line x1="29.7" y1="235.25" x2="32.5" y2="235.25" stroke="#1a1a1a" stroke-width="1.0"/>
<text x="26.1" y="237.65" font-size="6.3" text-anchor="end" fill="#333" stroke="#333" stroke-width="0.12" textLength="6.2" lengthAdjust="spacingAndGlyphs">70</text>
<line x1="29.7" y1="223.5" x2="32.5" y2="223.5" stroke="#1a1a1a" stroke-width="1.0"/>
<text x="26.1" y="225.9" font-size="6.3" text-anchor="end" fill="#333" stroke="#333" stroke-width="0.12" textLength="6.2" lengthAdjust="spacingAndGlyphs">80</text>
<line x1="29.7" y1="211.75" x2="32.5" y2="211.75" stroke="#1a1a1a" stroke-width="1.0"/>
<text x="26.1" y="214.15" font-size="6.3" text-anchor="end" fill="#333" stroke="#333" stroke-width="0.12" textLength="6.2" lengthAdjust="spacingAndGlyphs">90</text>
<line x1="30.9" y1="311.62" x2="32.5" y2="311.62" stroke="#1a1a1a" stroke-width="0.9"/>
<line x1="30.9" y1="299.88" x2="32.5" y2="299.88" stroke="#1a1a1a" stroke-width="0.9"/>
<line x1="30.9" y1="288.12" x2="32.5" y2="288.12" stroke="#1a1a1a" stroke-width="0.9"/>
<line x1="30.9" y1="276.38" x2="32.5" y2="276.38" stroke="#1a1a1a" stroke-width="0.9"/>
<line x1="30.9" y1="264.62" x2="32.5" y2="264.62" stroke="#1a1a1a" stroke-width="0.9"/>
<line x1="30.9" y1="252.88" x2="32.5" y2="252.88" stroke="#1a1a1a" stroke-width="0.9"/>
<line x1="30.9" y1="241.12" x2="32.5" y2="241.12" stroke="#1a1a1a" stroke-width="0.9"/>
<line x1="30.9" y1="229.38" x2="32.5" y2="229.38" stroke="#1a1a1a" stroke-width="0.9"/>
<line x1="30.9" y1="217.62" x2="32.5" y2="217.62" stroke="#1a1a1a" stroke-width="0.9"/>
<path d="M39.3 317.5V240.3H52.3V317.5" fill="none" stroke="#7088b6" stroke-width="1.25"/>
<path d="M58.65 317.5V257.2H71.8V317.5" fill="none" stroke="#bf4467" stroke-width="1.25"/>
<line x1="45.9" y1="317.5" x2="45.9" y2="320.3" stroke="#1a1a1a" stroke-width="1.0"/>
<line x1="65.6" y1="317.5" x2="65.6" y2="320.3" stroke="#1a1a1a" stroke-width="1.0"/>
<line x1="45.9" y1="232" x2="45.9" y2="248.5" stroke="#7088b6" stroke-width="1.2"/>
<line x1="43.1" y1="232" x2="48.7" y2="232" stroke="#7088b6" stroke-width="1.2"/>
<line x1="43.1" y1="248.5" x2="48.7" y2="248.5" stroke="#7088b6" stroke-width="1.2"/>
<line x1="65.3" y1="246" x2="65.3" y2="267.2" stroke="#bf4467" stroke-width="1.2"/>
<line x1="62" y1="246" x2="68.6" y2="246" stroke="#bf4467" stroke-width="1.2"/>
<line x1="62" y1="267.2" x2="68.6" y2="267.2" stroke="#bf4467" stroke-width="1.2"/>
<circle cx="41.2" cy="230" r="1.4" fill="#000"/>
<circle cx="45.8" cy="230.5" r="1.4" fill="#000"/>
<circle cx="50" cy="230" r="1.4" fill="#000"/>
<circle cx="43.5" cy="233.2" r="1.4" fill="#000"/>
<circle cx="47.8" cy="236.5" r="1.4" fill="#000"/>
<circle cx="45.5" cy="243" r="1.4" fill="#000"/>
<circle cx="43.5" cy="247.5" r="1.4" fill="#000"/>
<circle cx="47.8" cy="249.5" r="1.4" fill="#000"/>
<circle cx="45.5" cy="257" r="1.4" fill="#000"/>
<path d="M65.2 239.88L66.7 242.58L63.7 242.58Z" fill="#000"/>
<path d="M60.3 244.18L61.8 246.88L58.8 246.88Z" fill="#000"/>
<path d="M70.4 243.38L71.9 246.08L68.9 246.08Z" fill="#000"/>
<path d="M67.1 245.88L68.6 248.58L65.6 248.58Z" fill="#000"/>
<path d="M63.8 247.88L65.3 250.58L62.3 250.58Z" fill="#000"/>
<path d="M65.5 263.08L67 265.78L64 265.78Z" fill="#000"/>
<path d="M61.2 270.28L62.7 272.98L59.7 272.98Z" fill="#000"/>
<path d="M65.5 272.78L67 275.48L64 275.48Z" fill="#000"/>
<path d="M69.7 271.08L71.2 273.78L68.2 273.78Z" fill="#000"/>
<path d="M43.7 222.9V219.7H68.5V222.9" fill="none" stroke="#4a4a4a" stroke-width="1.25"/>
<text x="56.1" y="220" font-size="5.5" text-anchor="middle" fill="#333" stroke="#333" stroke-width="0.12" >**</text>
<text x="35.1" y="200.9" font-size="8.1" text-anchor="start" fill="#222" stroke="#222" stroke-width="0.12" textLength="46.3" lengthAdjust="spacingAndGlyphs">Tf Saturation</text>
<text x="0" y="0" font-size="8.35" text-anchor="middle" fill="#222" stroke="#222" stroke-width="0.04" transform="translate(14.7,263.4) rotate(-90)">Percentage</text>
<text x="45.6" y="328.8" font-size="6.0" text-anchor="middle" fill="#222" stroke="#222" stroke-width="0.12" textLength="9.2" lengthAdjust="spacingAndGlyphs">WT</text>
<text x="65.2" y="328.8" font-size="6.0" text-anchor="middle" fill="#222" stroke="#222" stroke-width="0.12" textLength="19.7" lengthAdjust="spacingAndGlyphs">Fpn KO</text>
<line x1="119.1" y1="209.2" x2="119.1" y2="318.2" stroke="#1a1a1a" stroke-width="1.3"/>
<line x1="118.5" y1="317.6" x2="164.6" y2="317.6" stroke="#1a1a1a" stroke-width="1.3"/>
<line x1="116.3" y1="317.6" x2="119.1" y2="317.6" stroke="#1a1a1a" stroke-width="1.0"/>
<text x="112.7" y="320" font-size="6.3" text-anchor="end" fill="#333" stroke="#333" stroke-width="0.12" textLength="3.1" lengthAdjust="spacingAndGlyphs">0</text>
<line x1="116.3" y1="291.05" x2="119.1" y2="291.05" stroke="#1a1a1a" stroke-width="1.0"/>
<text x="112.7" y="293.45" font-size="6.3" text-anchor="end" fill="#333" stroke="#333" stroke-width="0.12" textLength="12.4" lengthAdjust="spacingAndGlyphs">1000</text>
<line x1="116.3" y1="264.5" x2="119.1" y2="264.5" stroke="#1a1a1a" stroke-width="1.0"/>
<text x="112.7" y="266.9" font-size="6.3" text-anchor="end" fill="#333" stroke="#333" stroke-width="0.12" textLength="12.4" lengthAdjust="spacingAndGlyphs">2000</text>
<line x1="116.3" y1="237.95" x2="119.1" y2="237.95" stroke="#1a1a1a" stroke-width="1.0"/>
<text x="112.7" y="240.35" font-size="6.3" text-anchor="end" fill="#333" stroke="#333" stroke-width="0.12" textLength="12.4" lengthAdjust="spacingAndGlyphs">3000</text>
<line x1="116.3" y1="211.4" x2="119.1" y2="211.4" stroke="#1a1a1a" stroke-width="1.0"/>
<text x="112.7" y="213.8" font-size="6.3" text-anchor="end" fill="#333" stroke="#333" stroke-width="0.12" textLength="12.4" lengthAdjust="spacingAndGlyphs">4000</text>
<line x1="117.5" y1="304.33" x2="119.1" y2="304.33" stroke="#1a1a1a" stroke-width="0.9"/>
<line x1="117.5" y1="277.78" x2="119.1" y2="277.78" stroke="#1a1a1a" stroke-width="0.9"/>
<line x1="117.5" y1="251.23" x2="119.1" y2="251.23" stroke="#1a1a1a" stroke-width="0.9"/>
<line x1="117.5" y1="224.68" x2="119.1" y2="224.68" stroke="#1a1a1a" stroke-width="0.9"/>
<path d="M125.3 317.6V289.4H138.5V317.6" fill="none" stroke="#7088b6" stroke-width="1.25"/>
<path d="M144.9 317.6V269.4H158.1V317.6" fill="none" stroke="#bf4467" stroke-width="1.25"/>
<line x1="131.9" y1="317.6" x2="131.9" y2="320.4" stroke="#1a1a1a" stroke-width="1.0"/>
<line x1="151.6" y1="317.6" x2="151.6" y2="320.4" stroke="#1a1a1a" stroke-width="1.0"/>
<line x1="132" y1="284.2" x2="132" y2="294.6" stroke="#7088b6" stroke-width="1.2"/>
<line x1="129.2" y1="284.2" x2="134.8" y2="284.2" stroke="#7088b6" stroke-width="1.2"/>
<line x1="129.2" y1="294.6" x2="134.8" y2="294.6" stroke="#7088b6" stroke-width="1.2"/>
<line x1="151.7" y1="254" x2="151.7" y2="283.4" stroke="#bf4467" stroke-width="1.2"/>
<line x1="148.7" y1="254" x2="154.7" y2="254" stroke="#bf4467" stroke-width="1.2"/>
<line x1="148.7" y1="283.4" x2="154.7" y2="283.4" stroke="#bf4467" stroke-width="1.2"/>
<circle cx="132" cy="279.6" r="1.4" fill="#000"/>
<circle cx="134.4" cy="283.4" r="1.4" fill="#000"/>
<circle cx="129.6" cy="285.6" r="1.4" fill="#000"/>
<circle cx="126.8" cy="288.7" r="1.4" fill="#000"/>
<circle cx="131.6" cy="291.7" r="1.4" fill="#000"/>
<circle cx="136.9" cy="291.2" r="1.4" fill="#000"/>
<circle cx="128.5" cy="291.5" r="1.4" fill="#000"/>
<circle cx="132" cy="297.5" r="1.4" fill="#000"/>
<path d="M151.6 237.08L153.1 239.78L150.1 239.78Z" fill="#000"/>
<path d="M151.6 243.78L153.1 246.48L150.1 246.48Z" fill="#000"/>
<path d="M151.6 264.38L153.1 267.08L150.1 267.08Z" fill="#000"/>
<path d="M147.4 277.58L148.9 280.28L145.9 280.28Z" fill="#000"/>
<path d="M151.6 278.68L153.1 281.38L150.1 281.38Z" fill="#000"/>
<path d="M155.8 276.98L157.3 279.68L154.3 279.68Z" fill="#000"/>
<path d="M153.7 279.38L155.2 282.08L152.2 282.08Z" fill="#000"/>
<path d="M149.5 282.88L151 285.58L148 285.58Z" fill="#000"/>
<path d="M130.4 228V224.8H153.1V228" fill="none" stroke="#4a4a4a" stroke-width="1.25"/>
<text x="141.75" y="225.1" font-size="5.5" text-anchor="middle" fill="#333" stroke="#333" stroke-width="0.12" >**</text>
<text x="120.2" y="200.8" font-size="8.1" text-anchor="start" fill="#222" stroke="#222" stroke-width="0.12" textLength="51.5" lengthAdjust="spacingAndGlyphs">Serum Ferritin</text>
<text x="0" y="0" font-size="8.9" text-anchor="middle" fill="#222" stroke="#222" stroke-width="0.04" transform="translate(95.2,263.5) rotate(-90)">ng/mL</text>
<text x="132.2" y="328.9" font-size="6.0" text-anchor="middle" fill="#222" stroke="#222" stroke-width="0.12" textLength="9.2" lengthAdjust="spacingAndGlyphs">WT</text>
<text x="151.6" y="328.9" font-size="6.0" text-anchor="middle" fill="#222" stroke="#222" stroke-width="0.12" textLength="19.7" lengthAdjust="spacingAndGlyphs">Fpn KO</text>
<line x1="208.4" y1="208.9" x2="208.4" y2="318.1" stroke="#1a1a1a" stroke-width="1.3"/>
<line x1="207.8" y1="317.5" x2="253.8" y2="317.5" stroke="#1a1a1a" stroke-width="1.3"/>
<line x1="205.6" y1="317.5" x2="208.4" y2="317.5" stroke="#1a1a1a" stroke-width="1.0"/>
<text x="202" y="319.9" font-size="6.3" text-anchor="end" fill="#333" stroke="#333" stroke-width="0.12" textLength="3.1" lengthAdjust="spacingAndGlyphs">0</text>
<line x1="205.6" y1="291" x2="208.4" y2="291" stroke="#1a1a1a" stroke-width="1.0"/>
<text x="202" y="293.4" font-size="6.3" text-anchor="end" fill="#333" stroke="#333" stroke-width="0.12" textLength="12.4" lengthAdjust="spacingAndGlyphs">1000</text>
<line x1="205.6" y1="264.5" x2="208.4" y2="264.5" stroke="#1a1a1a" stroke-width="1.0"/>
<text x="202" y="266.9" font-size="6.3" text-anchor="end" fill="#333" stroke="#333" stroke-width="0.12" textLength="12.4" lengthAdjust="spacingAndGlyphs">2000</text>
<line x1="205.6" y1="238" x2="208.4" y2="238" stroke="#1a1a1a" stroke-width="1.0"/>
<text x="202" y="240.4" font-size="6.3" text-anchor="end" fill="#333" stroke="#333" stroke-width="0.12" textLength="12.4" lengthAdjust="spacingAndGlyphs">3000</text>
<line x1="205.6" y1="211.5" x2="208.4" y2="211.5" stroke="#1a1a1a" stroke-width="1.0"/>
<text x="202" y="213.9" font-size="6.3" text-anchor="end" fill="#333" stroke="#333" stroke-width="0.12" textLength="12.4" lengthAdjust="spacingAndGlyphs">4000</text>
<line x1="206.8" y1="304.25" x2="208.4" y2="304.25" stroke="#1a1a1a" stroke-width="0.9"/>
<line x1="206.8" y1="277.75" x2="208.4" y2="277.75" stroke="#1a1a1a" stroke-width="0.9"/>
<line x1="206.8" y1="251.25" x2="208.4" y2="251.25" stroke="#1a1a1a" stroke-width="0.9"/>
<line x1="206.8" y1="224.75" x2="208.4" y2="224.75" stroke="#1a1a1a" stroke-width="0.9"/>
<path d="M214.5 317.5V298.5H227.9V317.5" fill="none" stroke="#7088b6" stroke-width="1.25"/>
<path d="M234.4 317.5V263.5H247.4V317.5" fill="none" stroke="#bf4467" stroke-width="1.25"/>
<line x1="221.3" y1="317.5" x2="221.3" y2="320.3" stroke="#1a1a1a" stroke-width="1.0"/>
<line x1="241.1" y1="317.5" x2="241.1" y2="320.3" stroke="#1a1a1a" stroke-width="1.0"/>
<line x1="221.2" y1="286.9" x2="221.2" y2="309.1" stroke="#7088b6" stroke-width="1.2"/>
<line x1="218.1" y1="286.9" x2="224.3" y2="286.9" stroke="#7088b6" stroke-width="1.2"/>
<line x1="218.1" y1="309.1" x2="224.3" y2="309.1" stroke="#7088b6" stroke-width="1.2"/>
<line x1="240.9" y1="240.5" x2="240.9" y2="285.2" stroke="#bf4467" stroke-width="1.2"/>
<line x1="237" y1="240.5" x2="244.8" y2="240.5" stroke="#bf4467" stroke-width="1.2"/>
<line x1="237" y1="285.2" x2="244.8" y2="285.2" stroke="#bf4467" stroke-width="1.2"/>
<circle cx="219.4" cy="290.7" r="1.4" fill="#000"/>
<circle cx="223.6" cy="292.8" r="1.4" fill="#000"/>
<circle cx="219.4" cy="303.7" r="1.4" fill="#000"/>
<circle cx="223.6" cy="303.3" r="1.4" fill="#000"/>
<path d="M240.7 245.58L242.2 248.28L239.2 248.28Z" fill="#000"/>
<path d="M240.7 255.58L242.2 258.28L239.2 258.28Z" fill="#000"/>
<path d="M240.7 267.78L242.2 270.48L239.2 270.48Z" fill="#000"/>
<path d="M240.7 276.98L242.2 279.68L239.2 279.68Z" fill="#000"/>
<path d="M222.8 223.9V220.7H244.7V223.9" fill="none" stroke="#4a4a4a" stroke-width="1.25"/>
<text x="233.75" y="221" font-size="5.5" text-anchor="middle" fill="#333" stroke="#333" stroke-width="0.12" >**</text>
<text x="210.6" y="201.1" font-size="8.1" text-anchor="start" fill="#222" stroke="#222" stroke-width="0.12" textLength="40.6" lengthAdjust="spacingAndGlyphs">Spleen NHI</text>
<text x="0" y="0" font-size="8.6" text-anchor="middle" fill="#222" stroke="#222" stroke-width="0.04" transform="translate(184.2,263.4) rotate(-90)">μg/g tissue</text>
<text x="221.1" y="328.6" font-size="6.0" text-anchor="middle" fill="#222" stroke="#222" stroke-width="0.12" textLength="9.2" lengthAdjust="spacingAndGlyphs">WT</text>
<text x="241.2" y="328.6" font-size="6.0" text-anchor="middle" fill="#222" stroke="#222" stroke-width="0.12" textLength="19.7" lengthAdjust="spacingAndGlyphs">Fpn KO</text>
<line x1="296.4" y1="209.7" x2="296.4" y2="318.1" stroke="#1a1a1a" stroke-width="1.3"/>
<line x1="295.8" y1="317.5" x2="341.8" y2="317.5" stroke="#1a1a1a" stroke-width="1.3"/>
<line x1="293.6" y1="317.5" x2="296.4" y2="317.5" stroke="#1a1a1a" stroke-width="1.0"/>
<text x="290" y="319.9" font-size="6.3" text-anchor="end" fill="#333" stroke="#333" stroke-width="0.12" textLength="3.1" lengthAdjust="spacingAndGlyphs">0</text>
<line x1="293.6" y1="287.3" x2="296.4" y2="287.3" stroke="#1a1a1a" stroke-width="1.0"/>
<text x="290" y="289.7" font-size="6.3" text-anchor="end" fill="#333" stroke="#333" stroke-width="0.12" textLength="12.4" lengthAdjust="spacingAndGlyphs">4000</text>
<line x1="293.6" y1="257.1" x2="296.4" y2="257.1" stroke="#1a1a1a" stroke-width="1.0"/>
<text x="290" y="259.5" font-size="6.3" text-anchor="end" fill="#333" stroke="#333" stroke-width="0.12" textLength="12.4" lengthAdjust="spacingAndGlyphs">8000</text>
<line x1="293.6" y1="226.9" x2="296.4" y2="226.9" stroke="#1a1a1a" stroke-width="1.0"/>
<text x="290" y="229.3" font-size="6.3" text-anchor="end" fill="#333" stroke="#333" stroke-width="0.12" textLength="15.5" lengthAdjust="spacingAndGlyphs">12000</text>
<line x1="294.8" y1="309.95" x2="296.4" y2="309.95" stroke="#1a1a1a" stroke-width="0.9"/>
<line x1="294.8" y1="302.4" x2="296.4" y2="302.4" stroke="#1a1a1a" stroke-width="0.9"/>
<line x1="294.8" y1="294.85" x2="296.4" y2="294.85" stroke="#1a1a1a" stroke-width="0.9"/>
<line x1="294.8" y1="279.75" x2="296.4" y2="279.75" stroke="#1a1a1a" stroke-width="0.9"/>
<line x1="294.8" y1="272.2" x2="296.4" y2="272.2" stroke="#1a1a1a" stroke-width="0.9"/>
<line x1="294.8" y1="264.65" x2="296.4" y2="264.65" stroke="#1a1a1a" stroke-width="0.9"/>
<line x1="294.8" y1="249.55" x2="296.4" y2="249.55" stroke="#1a1a1a" stroke-width="0.9"/>
<line x1="294.8" y1="242" x2="296.4" y2="242" stroke="#1a1a1a" stroke-width="0.9"/>
<line x1="294.8" y1="234.45" x2="296.4" y2="234.45" stroke="#1a1a1a" stroke-width="0.9"/>
<line x1="294.8" y1="219.35" x2="296.4" y2="219.35" stroke="#1a1a1a" stroke-width="0.9"/>
<line x1="294.8" y1="211.8" x2="296.4" y2="211.8" stroke="#1a1a1a" stroke-width="0.9"/>
<path d="M302.8 317.5V292.7H315.9V317.5" fill="none" stroke="#7088b6" stroke-width="1.25"/>
<path d="M322.3 317.5V261.8H335.3V317.5" fill="none" stroke="#bf4467" stroke-width="1.25"/>
<line x1="309.5" y1="317.5" x2="309.5" y2="320.3" stroke="#1a1a1a" stroke-width="1.0"/>
<line x1="329.1" y1="317.5" x2="329.1" y2="320.3" stroke="#1a1a1a" stroke-width="1.0"/>
<line x1="309.6" y1="277.3" x2="309.6" y2="307.4" stroke="#7088b6" stroke-width="1.2"/>
<line x1="306.5" y1="277.3" x2="312.7" y2="277.3" stroke="#7088b6" stroke-width="1.2"/>
<line x1="306.5" y1="307.4" x2="312.7" y2="307.4" stroke="#7088b6" stroke-width="1.2"/>
<line x1="329.3" y1="229" x2="329.3" y2="293.5" stroke="#bf4467" stroke-width="1.2"/>
<line x1="326" y1="229" x2="332.6" y2="229" stroke="#bf4467" stroke-width="1.2"/>
<line x1="326" y1="293.5" x2="332.6" y2="293.5" stroke="#bf4467" stroke-width="1.2"/>
<circle cx="307.7" cy="284.2" r="1.4" fill="#000"/>
<circle cx="311.8" cy="284.5" r="1.4" fill="#000"/>
<circle cx="311.8" cy="298.4" r="1.4" fill="#000"/>
<circle cx="307.7" cy="302.2" r="1.4" fill="#000"/>
<path d="M329.1 250.18L330.6 252.88L327.6 252.88Z" fill="#000"/>
<path d="M329 235.68L330.5 238.38L327.5 238.38Z" fill="#000"/>
<path d="M326.6 276.68L328.1 279.38L325.1 279.38Z" fill="#000"/>
<path d="M331.4 276.68L332.9 279.38L329.9 279.38Z" fill="#000"/>
<path d="M305.4 222.2V219H330V222.2" fill="none" stroke="#4a4a4a" stroke-width="1.25"/>
<text x="317.7" y="219.3" font-size="5.5" text-anchor="middle" fill="#333" stroke="#333" stroke-width="0.12" >*</text>
<text x="292.9" y="201.2" font-size="8.1" text-anchor="start" fill="#222" stroke="#222" stroke-width="0.12" textLength="52.7" lengthAdjust="spacingAndGlyphs">Spleen Ferritin</text>
<text x="0" y="0" font-size="8.75" text-anchor="middle" fill="#222" stroke="#222" stroke-width="0.04" transform="translate(268.9,264.5) rotate(-90)">μg/g tissues</text>
<text x="309.5" y="328.7" font-size="6.0" text-anchor="middle" fill="#222" stroke="#222" stroke-width="0.12" textLength="9.2" lengthAdjust="spacingAndGlyphs">WT</text>
<text x="329.2" y="328.7" font-size="6.0" text-anchor="middle" fill="#222" stroke="#222" stroke-width="0.12" textLength="19.7" lengthAdjust="spacingAndGlyphs">Fpn KO</text>
<line x1="382.4" y1="208.9" x2="382.4" y2="318" stroke="#1a1a1a" stroke-width="1.3"/>
<line x1="381.8" y1="317.4" x2="428.3" y2="317.4" stroke="#1a1a1a" stroke-width="1.3"/>
<line x1="379.6" y1="317.4" x2="382.4" y2="317.4" stroke="#1a1a1a" stroke-width="1.0"/>
<text x="376" y="319.8" font-size="6.3" text-anchor="end" fill="#333" stroke="#333" stroke-width="0.12" textLength="3.1" lengthAdjust="spacingAndGlyphs">0</text>
<line x1="379.6" y1="282.5" x2="382.4" y2="282.5" stroke="#1a1a1a" stroke-width="1.0"/>
<text x="376" y="284.9" font-size="6.3" text-anchor="end" fill="#333" stroke="#333" stroke-width="0.12" textLength="6.2" lengthAdjust="spacingAndGlyphs">50</text>
<line x1="379.6" y1="247.6" x2="382.4" y2="247.6" stroke="#1a1a1a" stroke-width="1.0"/>
<text x="376" y="250" font-size="6.3" text-anchor="end" fill="#333" stroke="#333" stroke-width="0.12" textLength="9.3" lengthAdjust="spacingAndGlyphs">100</text>
<line x1="379.6" y1="212.7" x2="382.4" y2="212.7" stroke="#1a1a1a" stroke-width="1.0"/>
<text x="376" y="215.1" font-size="6.3" text-anchor="end" fill="#333" stroke="#333" stroke-width="0.12" textLength="9.3" lengthAdjust="spacingAndGlyphs">150</text>
<line x1="380.8" y1="299.95" x2="382.4" y2="299.95" stroke="#1a1a1a" stroke-width="0.9"/>
<line x1="380.8" y1="265.05" x2="382.4" y2="265.05" stroke="#1a1a1a" stroke-width="0.9"/>
<line x1="380.8" y1="230.15" x2="382.4" y2="230.15" stroke="#1a1a1a" stroke-width="0.9"/>
<path d="M388.9 317.4V284.5H401.9V317.4" fill="none" stroke="#7088b6" stroke-width="1.25"/>
<path d="M408.4 317.4V273.2H421.5V317.4" fill="none" stroke="#bf4467" stroke-width="1.25"/>
<line x1="395.4" y1="317.4" x2="395.4" y2="320.2" stroke="#1a1a1a" stroke-width="1.0"/>
<line x1="415.1" y1="317.4" x2="415.1" y2="320.2" stroke="#1a1a1a" stroke-width="1.0"/>
<line x1="395.4" y1="279.4" x2="395.4" y2="289.6" stroke="#7088b6" stroke-width="1.2"/>
<line x1="392.1" y1="279.4" x2="398.7" y2="279.4" stroke="#7088b6" stroke-width="1.2"/>
<line x1="392.1" y1="289.6" x2="398.7" y2="289.6" stroke="#7088b6" stroke-width="1.2"/>
<line x1="415" y1="261.2" x2="415" y2="285.3" stroke="#bf4467" stroke-width="1.2"/>
<line x1="411.7" y1="261.2" x2="418.3" y2="261.2" stroke="#bf4467" stroke-width="1.2"/>
<line x1="411.7" y1="285.3" x2="418.3" y2="285.3" stroke="#bf4467" stroke-width="1.2"/>
<circle cx="395.2" cy="272.6" r="1.4" fill="#000"/>
<circle cx="391" cy="277.5" r="1.4" fill="#000"/>
<circle cx="399" cy="276.6" r="1.4" fill="#000"/>
<circle cx="393.9" cy="281.3" r="1.4" fill="#000"/>
<circle cx="397.7" cy="281.3" r="1.4" fill="#000"/>
<circle cx="390.6" cy="284.5" r="1.4" fill="#000"/>
<circle cx="400.5" cy="284.5" r="1.4" fill="#000"/>
<circle cx="390.6" cy="288.3" r="1.4" fill="#000"/>
<circle cx="395.8" cy="288.9" r="1.4" fill="#000"/>
<circle cx="400.5" cy="288.9" r="1.4" fill="#000"/>
<circle cx="393.9" cy="291.6" r="1.4" fill="#000"/>
<circle cx="398.2" cy="291.2" r="1.4" fill="#000"/>
<path d="M415.1 236.68L416.6 239.38L413.6 239.38Z" fill="#000"/>
<path d="M417.6 259.28L419.1 261.98L416.1 261.98Z" fill="#000"/>
<path d="M413.8 259.28L415.3 261.98L412.3 261.98Z" fill="#000"/>
<path d="M415.3 265.48L416.8 268.18L413.8 268.18Z" fill="#000"/>
<path d="M415.3 270.98L416.8 273.68L413.8 273.68Z" fill="#000"/>
<path d="M411.3 281.58L412.8 284.28L409.8 284.28Z" fill="#000"/>
<path d="M419.5 280.48L421 283.18L418 283.18Z" fill="#000"/>
<path d="M415.7 282.88L417.2 285.58L414.2 285.58Z" fill="#000"/>
<path d="M417.6 285.78L419.1 288.48L416.1 288.48Z" fill="#000"/>
<path d="M412.8 289.98L414.3 292.68L411.3 292.68Z" fill="#000"/>
<path d="M393.4 228.9V225.7H415.6V228.9" fill="none" stroke="#4a4a4a" stroke-width="1.25"/>
<text x="404.5" y="226" font-size="5.5" text-anchor="middle" fill="#333" stroke="#333" stroke-width="0.12" >*</text>
<text x="388.5" y="200.8" font-size="8.1" text-anchor="start" fill="#222" stroke="#222" stroke-width="0.12" textLength="33.2" lengthAdjust="spacingAndGlyphs">Liver NHI</text>
<text x="0" y="0" font-size="8.6" text-anchor="middle" fill="#222" stroke="#222" stroke-width="0.04" transform="translate(362.2,263.6) rotate(-90)">μg/g tissue</text>
<text x="395.2" y="328.7" font-size="6.0" text-anchor="middle" fill="#222" stroke="#222" stroke-width="0.12" textLength="9.2" lengthAdjust="spacingAndGlyphs">WT</text>
<text x="415.1" y="328.7" font-size="6.0" text-anchor="middle" fill="#222" stroke="#222" stroke-width="0.12" textLength="19.7" lengthAdjust="spacingAndGlyphs">Fpn KO</text>
<line x1="467.4" y1="209.8" x2="467.4" y2="318" stroke="#1a1a1a" stroke-width="1.3"/>
<line x1="466.8" y1="317.4" x2="512.7" y2="317.4" stroke="#1a1a1a" stroke-width="1.3"/>
<line x1="464.6" y1="317.4" x2="467.4" y2="317.4" stroke="#1a1a1a" stroke-width="1.0"/>
<text x="461" y="319.8" font-size="6.3" text-anchor="end" fill="#333" stroke="#333" stroke-width="0.12" textLength="3.1" lengthAdjust="spacingAndGlyphs">0</text>
<line x1="464.6" y1="299.86" x2="467.4" y2="299.86" stroke="#1a1a1a" stroke-width="1.0"/>
<text x="461" y="302.26" font-size="6.3" text-anchor="end" fill="#333" stroke="#333" stroke-width="0.12" textLength="9.3" lengthAdjust="spacingAndGlyphs">400</text>
<line x1="464.6" y1="282.32" x2="467.4" y2="282.32" stroke="#1a1a1a" stroke-width="1.0"/>
<text x="461" y="284.72" font-size="6.3" text-anchor="end" fill="#333" stroke="#333" stroke-width="0.12" textLength="9.3" lengthAdjust="spacingAndGlyphs">800</text>
<line x1="464.6" y1="264.78" x2="467.4" y2="264.78" stroke="#1a1a1a" stroke-width="1.0"/>
<text x="461" y="267.18" font-size="6.3" text-anchor="end" fill="#333" stroke="#333" stroke-width="0.12" textLength="12.4" lengthAdjust="spacingAndGlyphs">1200</text>
<line x1="464.6" y1="247.24" x2="467.4" y2="247.24" stroke="#1a1a1a" stroke-width="1.0"/>
<text x="461" y="249.64" font-size="6.3" text-anchor="end" fill="#333" stroke="#333" stroke-width="0.12" textLength="12.4" lengthAdjust="spacingAndGlyphs">1600</text>
<line x1="464.6" y1="229.7" x2="467.4" y2="229.7" stroke="#1a1a1a" stroke-width="1.0"/>
<text x="461" y="232.1" font-size="6.3" text-anchor="end" fill="#333" stroke="#333" stroke-width="0.12" textLength="12.4" lengthAdjust="spacingAndGlyphs">2000</text>
<line x1="464.6" y1="212.16" x2="467.4" y2="212.16" stroke="#1a1a1a" stroke-width="1.0"/>
<text x="461" y="214.56" font-size="6.3" text-anchor="end" fill="#333" stroke="#333" stroke-width="0.12" textLength="12.4" lengthAdjust="spacingAndGlyphs">2400</text>
<line x1="465.8" y1="308.63" x2="467.4" y2="308.63" stroke="#1a1a1a" stroke-width="0.9"/>
<line x1="465.8" y1="291.09" x2="467.4" y2="291.09" stroke="#1a1a1a" stroke-width="0.9"/>
<line x1="465.8" y1="273.55" x2="467.4" y2="273.55" stroke="#1a1a1a" stroke-width="0.9"/>
<line x1="465.8" y1="256.01" x2="467.4" y2="256.01" stroke="#1a1a1a" stroke-width="0.9"/>
<line x1="465.8" y1="238.47" x2="467.4" y2="238.47" stroke="#1a1a1a" stroke-width="0.9"/>
<line x1="465.8" y1="220.93" x2="467.4" y2="220.93" stroke="#1a1a1a" stroke-width="0.9"/>
<path d="M474.3 317.4V271.7H487.4V317.4" fill="none" stroke="#7088b6" stroke-width="1.25"/>
<path d="M493.7 317.4V245.6H506.8V317.4" fill="none" stroke="#bf4467" stroke-width="1.25"/>
<line x1="480.6" y1="317.4" x2="480.6" y2="320.2" stroke="#1a1a1a" stroke-width="1.0"/>
<line x1="500.4" y1="317.4" x2="500.4" y2="320.2" stroke="#1a1a1a" stroke-width="1.0"/>
<line x1="480.7" y1="249.5" x2="480.7" y2="292.7" stroke="#7088b6" stroke-width="1.2"/>
<line x1="477.4" y1="249.5" x2="484" y2="249.5" stroke="#7088b6" stroke-width="1.2"/>
<line x1="477.4" y1="292.7" x2="484" y2="292.7" stroke="#7088b6" stroke-width="1.2"/>
<line x1="501" y1="234.5" x2="501" y2="254.7" stroke="#bf4467" stroke-width="1.2"/>
<line x1="497.6" y1="234.5" x2="504.4" y2="234.5" stroke="#bf4467" stroke-width="1.2"/>
<line x1="497.6" y1="254.7" x2="504.4" y2="254.7" stroke="#bf4467" stroke-width="1.2"/>
<circle cx="478.9" cy="243.8" r="1.4" fill="#000"/>
<circle cx="483.2" cy="242.8" r="1.4" fill="#000"/>
<circle cx="480.8" cy="256.7" r="1.4" fill="#000"/>
<circle cx="480.8" cy="275.1" r="1.4" fill="#000"/>
<circle cx="478.9" cy="288.9" r="1.4" fill="#000"/>
<circle cx="483.2" cy="289.7" r="1.4" fill="#000"/>
<circle cx="480.8" cy="300.3" r="1.4" fill="#000"/>
<path d="M495.4 237.58L496.9 240.28L493.9 240.28Z" fill="#000"/>
<path d="M499.6 239.78L501.1 242.48L498.1 242.48Z" fill="#000"/>
<path d="M502.7 237.58L504.2 240.28L501.2 240.28Z" fill="#000"/>
<path d="M505.8 237.58L507.3 240.28L504.3 240.28Z" fill="#000"/>
<path d="M500.1 244.98L501.6 247.68L498.6 247.68Z" fill="#000"/>
<path d="M500.3 245.98L501.8 248.68L498.8 248.68Z" fill="#000"/>
<path d="M500.3 262.08L501.8 264.78L498.8 264.78Z" fill="#000"/>
<path d="M476.7 222.6V219.4H500.9V222.6" fill="none" stroke="#4a4a4a" stroke-width="1.25"/>
<text x="488.8" y="219.7" font-size="5.5" text-anchor="middle" fill="#333" stroke="#333" stroke-width="0.12" >*</text>
<text x="467.1" y="200.8" font-size="8.1" text-anchor="start" fill="#222" stroke="#222" stroke-width="0.12" textLength="45.5" lengthAdjust="spacingAndGlyphs">Liver Ferritin</text>
<text x="0" y="0" font-size="8.75" text-anchor="middle" fill="#222" stroke="#222" stroke-width="0.04" transform="translate(443.9,264.5) rotate(-90)">μg/g tissues</text>
<text x="481" y="328.7" font-size="6.0" text-anchor="middle" fill="#222" stroke="#222" stroke-width="0.12" textLength="9.2" lengthAdjust="spacingAndGlyphs">WT</text>
<text x="500.5" y="328.7" font-size="6.0" text-anchor="middle" fill="#222" stroke="#222" stroke-width="0.12" textLength="19.7" lengthAdjust="spacingAndGlyphs">Fpn KO</text>
<line x1="32.5" y1="373.7" x2="32.5" y2="481.7" stroke="#1a1a1a" stroke-width="1.3"/>
<line x1="31.9" y1="481.1" x2="77.9" y2="481.1" stroke="#1a1a1a" stroke-width="1.3"/>
<line x1="29.7" y1="481.1" x2="32.5" y2="481.1" stroke="#1a1a1a" stroke-width="1.0"/>
<text x="26.1" y="483.5" font-size="6.3" text-anchor="end" fill="#333" stroke="#333" stroke-width="0.12" textLength="3.1" lengthAdjust="spacingAndGlyphs">0</text>
<line x1="29.7" y1="465" x2="32.5" y2="465" stroke="#1a1a1a" stroke-width="1.0"/>
<text x="26.1" y="467.4" font-size="6.3" text-anchor="end" fill="#333" stroke="#333" stroke-width="0.12" textLength="6.2" lengthAdjust="spacingAndGlyphs">20</text>
<line x1="29.7" y1="448.9" x2="32.5" y2="448.9" stroke="#1a1a1a" stroke-width="1.0"/>
<text x="26.1" y="451.3" font-size="6.3" text-anchor="end" fill="#333" stroke="#333" stroke-width="0.12" textLength="6.2" lengthAdjust="spacingAndGlyphs">40</text>
<line x1="29.7" y1="432.8" x2="32.5" y2="432.8" stroke="#1a1a1a" stroke-width="1.0"/>
<text x="26.1" y="435.2" font-size="6.3" text-anchor="end" fill="#333" stroke="#333" stroke-width="0.12" textLength="6.2" lengthAdjust="spacingAndGlyphs">60</text>
<line x1="29.7" y1="416.7" x2="32.5" y2="416.7" stroke="#1a1a1a" stroke-width="1.0"/>
<text x="26.1" y="419.1" font-size="6.3" text-anchor="end" fill="#333" stroke="#333" stroke-width="0.12" textLength="6.2" lengthAdjust="spacingAndGlyphs">80</text>
<line x1="29.7" y1="400.6" x2="32.5" y2="400.6" stroke="#1a1a1a" stroke-width="1.0"/>
<text x="26.1" y="403" font-size="6.3" text-anchor="end" fill="#333" stroke="#333" stroke-width="0.12" textLength="9.3" lengthAdjust="spacingAndGlyphs">100</text>
<line x1="29.7" y1="384.5" x2="32.5" y2="384.5" stroke="#1a1a1a" stroke-width="1.0"/>
<text x="26.1" y="386.9" font-size="6.3" text-anchor="end" fill="#333" stroke="#333" stroke-width="0.12" textLength="9.3" lengthAdjust="spacingAndGlyphs">120</text>
<line x1="30.9" y1="473.05" x2="32.5" y2="473.05" stroke="#1a1a1a" stroke-width="0.9"/>
<line x1="30.9" y1="456.95" x2="32.5" y2="456.95" stroke="#1a1a1a" stroke-width="0.9"/>
<line x1="30.9" y1="440.85" x2="32.5" y2="440.85" stroke="#1a1a1a" stroke-width="0.9"/>
<line x1="30.9" y1="424.75" x2="32.5" y2="424.75" stroke="#1a1a1a" stroke-width="0.9"/>
<line x1="30.9" y1="408.65" x2="32.5" y2="408.65" stroke="#1a1a1a" stroke-width="0.9"/>
<line x1="30.9" y1="392.55" x2="32.5" y2="392.55" stroke="#1a1a1a" stroke-width="0.9"/>
<line x1="30.9" y1="376.45" x2="32.5" y2="376.45" stroke="#1a1a1a" stroke-width="0.9"/>
<path d="M39.3 481.1V443.2H52.1V481.1" fill="none" stroke="#7088b6" stroke-width="1.25"/>
<path d="M58.6 481.1V429.7H71.6V481.1" fill="none" stroke="#bf4467" stroke-width="1.25"/>
<line x1="45.5" y1="481.1" x2="45.5" y2="483.9" stroke="#1a1a1a" stroke-width="1.0"/>
<line x1="65.4" y1="481.1" x2="65.4" y2="483.9" stroke="#1a1a1a" stroke-width="1.0"/>
<line x1="45.75" y1="437.5" x2="45.75" y2="449" stroke="#7088b6" stroke-width="1.2"/>
<line x1="42.55" y1="437.5" x2="48.95" y2="437.5" stroke="#7088b6" stroke-width="1.2"/>
<line x1="42.55" y1="449" x2="48.95" y2="449" stroke="#7088b6" stroke-width="1.2"/>
<line x1="65.5" y1="416.1" x2="65.5" y2="443.2" stroke="#bf4467" stroke-width="1.2"/>
<line x1="62.4" y1="416.1" x2="68.6" y2="416.1" stroke="#bf4467" stroke-width="1.2"/>
<line x1="62.4" y1="443.2" x2="68.6" y2="443.2" stroke="#bf4467" stroke-width="1.2"/>
<circle cx="45.5" cy="429.4" r="1.4" fill="#000"/>
<circle cx="43.2" cy="437" r="1.4" fill="#000"/>
<circle cx="47.7" cy="434.1" r="1.4" fill="#000"/>
<circle cx="40.7" cy="439.8" r="1.4" fill="#000"/>
<circle cx="45.9" cy="441.7" r="1.4" fill="#000"/>
<circle cx="50.2" cy="440.7" r="1.4" fill="#000"/>
<circle cx="40.7" cy="445.5" r="1.4" fill="#000"/>
<circle cx="45.9" cy="446.4" r="1.4" fill="#000"/>
<circle cx="50.2" cy="445.9" r="1.4" fill="#000"/>
<circle cx="40.7" cy="449.6" r="1.4" fill="#000"/>
<circle cx="44" cy="450.8" r="1.4" fill="#000"/>
<circle cx="48.3" cy="450.2" r="1.4" fill="#000"/>
<path d="M65.4 388.88L66.9 391.58L63.9 391.58Z" fill="#000"/>
<path d="M63.5 414.48L65 417.18L62 417.18Z" fill="#000"/>
<path d="M67.3 414.48L68.8 417.18L65.8 417.18Z" fill="#000"/>
<path d="M65.4 421.48L66.9 424.18L63.9 424.18Z" fill="#000"/>
<path d="M65.4 427.18L66.9 429.88L63.9 429.88Z" fill="#000"/>
<path d="M61 438.58L62.5 441.28L59.5 441.28Z" fill="#000"/>
<path d="M69.7 438.58L71.2 441.28L68.2 441.28Z" fill="#000"/>
<path d="M65.4 441.98L66.9 444.68L63.9 444.68Z" fill="#000"/>
<path d="M65.4 445.78L66.9 448.48L63.9 448.48Z" fill="#000"/>
<path d="M65.4 449.88L66.9 452.58L63.9 452.58Z" fill="#000"/>
<path d="M41.2 385.6V382.4H65.4V385.6" fill="none" stroke="#4a4a4a" stroke-width="1.25"/>
<text x="53.3" y="382.7" font-size="5.5" text-anchor="middle" fill="#333" stroke="#333" stroke-width="0.12" >*</text>
<text x="35.4" y="365.6" font-size="8.1" text-anchor="start" fill="#222" stroke="#222" stroke-width="0.12" textLength="40.7" lengthAdjust="spacingAndGlyphs">Kidney NHI</text>
<text x="0" y="0" font-size="8.55" text-anchor="middle" fill="#222" stroke="#222" stroke-width="0.04" transform="translate(12.9,427.5) rotate(-90)">μg/g tissue</text>
<text x="45.8" y="491.9" font-size="6.0" text-anchor="middle" fill="#222" stroke="#222" stroke-width="0.12" textLength="9.2" lengthAdjust="spacingAndGlyphs">WT</text>
<text x="64.9" y="491.9" font-size="6.0" text-anchor="middle" fill="#222" stroke="#222" stroke-width="0.12" textLength="19.7" lengthAdjust="spacingAndGlyphs">Fpn KO</text>
<line x1="119.2" y1="373.2" x2="119.2" y2="481.8" stroke="#1a1a1a" stroke-width="1.3"/>
<line x1="118.6" y1="481.2" x2="164.5" y2="481.2" stroke="#1a1a1a" stroke-width="1.3"/>
<line x1="116.4" y1="481.2" x2="119.2" y2="481.2" stroke="#1a1a1a" stroke-width="1.0"/>
<text x="112.8" y="483.6" font-size="6.3" text-anchor="end" fill="#333" stroke="#333" stroke-width="0.12" textLength="3.1" lengthAdjust="spacingAndGlyphs">0</text>
<line x1="116.4" y1="446.1" x2="119.2" y2="446.1" stroke="#1a1a1a" stroke-width="1.0"/>
<text x="112.8" y="448.5" font-size="6.3" text-anchor="end" fill="#333" stroke="#333" stroke-width="0.12" textLength="9.3" lengthAdjust="spacingAndGlyphs">200</text>
<line x1="116.4" y1="411" x2="119.2" y2="411" stroke="#1a1a1a" stroke-width="1.0"/>
<text x="112.8" y="413.4" font-size="6.3" text-anchor="end" fill="#333" stroke="#333" stroke-width="0.12" textLength="9.3" lengthAdjust="spacingAndGlyphs">400</text>
<line x1="116.4" y1="375.9" x2="119.2" y2="375.9" stroke="#1a1a1a" stroke-width="1.0"/>
<text x="112.8" y="378.3" font-size="6.3" text-anchor="end" fill="#333" stroke="#333" stroke-width="0.12" textLength="9.3" lengthAdjust="spacingAndGlyphs">600</text>
<line x1="117.6" y1="472.43" x2="119.2" y2="472.43" stroke="#1a1a1a" stroke-width="0.9"/>
<line x1="117.6" y1="463.65" x2="119.2" y2="463.65" stroke="#1a1a1a" stroke-width="0.9"/>
<line x1="117.6" y1="454.88" x2="119.2" y2="454.88" stroke="#1a1a1a" stroke-width="0.9"/>
<line x1="117.6" y1="437.32" x2="119.2" y2="437.32" stroke="#1a1a1a" stroke-width="0.9"/>
<line x1="117.6" y1="428.55" x2="119.2" y2="428.55" stroke="#1a1a1a" stroke-width="0.9"/>
<line x1="117.6" y1="419.77" x2="119.2" y2="419.77" stroke="#1a1a1a" stroke-width="0.9"/>
<line x1="117.6" y1="402.23" x2="119.2" y2="402.23" stroke="#1a1a1a" stroke-width="0.9"/>
<line x1="117.6" y1="393.45" x2="119.2" y2="393.45" stroke="#1a1a1a" stroke-width="0.9"/>
<line x1="117.6" y1="384.68" x2="119.2" y2="384.68" stroke="#1a1a1a" stroke-width="0.9"/>
<path d="M125.4 481.2V450.6H138.6V481.2" fill="none" stroke="#7088b6" stroke-width="1.25"/>
<path d="M144.7 481.2V425.2H158V481.2" fill="none" stroke="#bf4467" stroke-width="1.25"/>
<line x1="131.7" y1="481.2" x2="131.7" y2="484" stroke="#1a1a1a" stroke-width="1.0"/>
<line x1="151.6" y1="481.2" x2="151.6" y2="484" stroke="#1a1a1a" stroke-width="1.0"/>
<line x1="131.95" y1="439.4" x2="131.95" y2="461.8" stroke="#7088b6" stroke-width="1.2"/>
<line x1="128.75" y1="439.4" x2="135.15" y2="439.4" stroke="#7088b6" stroke-width="1.2"/>
<line x1="128.75" y1="461.8" x2="135.15" y2="461.8" stroke="#7088b6" stroke-width="1.2"/>
<line x1="151.6" y1="406.6" x2="151.6" y2="443.2" stroke="#bf4467" stroke-width="1.2"/>
<line x1="148.4" y1="406.6" x2="154.8" y2="406.6" stroke="#bf4467" stroke-width="1.2"/>
<line x1="148.4" y1="443.2" x2="154.8" y2="443.2" stroke="#bf4467" stroke-width="1.2"/>
<circle cx="131.7" cy="428.4" r="1.4" fill="#000"/>
<circle cx="129.4" cy="437" r="1.4" fill="#000"/>
<circle cx="134.5" cy="437" r="1.4" fill="#000"/>
<circle cx="127.9" cy="460.2" r="1.4" fill="#000"/>
<circle cx="130.7" cy="461.6" r="1.4" fill="#000"/>
<circle cx="133.6" cy="462.5" r="1.4" fill="#000"/>
<circle cx="136.4" cy="461.6" r="1.4" fill="#000"/>
<circle cx="131.7" cy="463.5" r="1.4" fill="#000"/>
<circle cx="128.5" cy="461.5" r="1.4" fill="#000"/>
<circle cx="134.8" cy="462.3" r="1.4" fill="#000"/>
<path d="M151.3 388.88L152.8 391.58L149.8 391.58Z" fill="#000"/>
<path d="M149.4 403.28L150.9 405.98L147.9 405.98Z" fill="#000"/>
<path d="M153.9 402.88L155.4 405.58L152.4 405.58Z" fill="#000"/>
<path d="M151.3 409.28L152.8 411.98L149.8 411.98Z" fill="#000"/>
<path d="M151 421.08L152.5 423.78L149.5 423.78Z" fill="#000"/>
<path d="M151 438.58L152.5 441.28L149.5 441.28Z" fill="#000"/>
<path d="M146.8 448.58L148.3 451.28L145.3 451.28Z" fill="#000"/>
<path d="M151 451.38L152.5 454.08L149.5 454.08Z" fill="#000"/>
<path d="M155.4 449.18L156.9 451.88L153.9 451.88Z" fill="#000"/>
<path d="M127.9 385.2V382H152.1V385.2" fill="none" stroke="#4a4a4a" stroke-width="1.25"/>
<text x="140" y="382.3" font-size="5.5" text-anchor="middle" fill="#333" stroke="#333" stroke-width="0.12" >*</text>
<text x="115.2" y="365.6" font-size="8.1" text-anchor="start" fill="#222" stroke="#222" stroke-width="0.12" textLength="52.4" lengthAdjust="spacingAndGlyphs">Kidney Ferritin</text>
<text x="0" y="0" font-size="8.3" text-anchor="middle" fill="#222" stroke="#222" stroke-width="0.04" transform="translate(99.2,427) rotate(-90)">μg/g tissues</text>
<text x="131.9" y="491.9" font-size="6.0" text-anchor="middle" fill="#222" stroke="#222" stroke-width="0.12" textLength="9.2" lengthAdjust="spacingAndGlyphs">WT</text>
<text x="151.7" y="491.9" font-size="6.0" text-anchor="middle" fill="#222" stroke="#222" stroke-width="0.12" textLength="19.7" lengthAdjust="spacingAndGlyphs">Fpn KO</text>
<line x1="208.5" y1="372.9" x2="208.5" y2="481.7" stroke="#1a1a1a" stroke-width="1.3"/>
<line x1="207.9" y1="481.1" x2="253.8" y2="481.1" stroke="#1a1a1a" stroke-width="1.3"/>
<line x1="205.7" y1="481.1" x2="208.5" y2="481.1" stroke="#1a1a1a" stroke-width="1.0"/>
<text x="202.1" y="483.5" font-size="6.3" text-anchor="end" fill="#333" stroke="#333" stroke-width="0.12" textLength="3.1" lengthAdjust="spacingAndGlyphs">0</text>
<line x1="205.7" y1="460" x2="208.5" y2="460" stroke="#1a1a1a" stroke-width="1.0"/>
<text x="202.1" y="462.4" font-size="6.3" text-anchor="end" fill="#333" stroke="#333" stroke-width="0.12" textLength="3.1" lengthAdjust="spacingAndGlyphs">5</text>
<line x1="205.7" y1="438.9" x2="208.5" y2="438.9" stroke="#1a1a1a" stroke-width="1.0"/>
<text x="202.1" y="441.3" font-size="6.3" text-anchor="end" fill="#333" stroke="#333" stroke-width="0.12" textLength="6.2" lengthAdjust="spacingAndGlyphs">10</text>
<line x1="205.7" y1="417.8" x2="208.5" y2="417.8" stroke="#1a1a1a" stroke-width="1.0"/>
<text x="202.1" y="420.2" font-size="6.3" text-anchor="end" fill="#333" stroke="#333" stroke-width="0.12" textLength="6.2" lengthAdjust="spacingAndGlyphs">15</text>
<line x1="205.7" y1="396.7" x2="208.5" y2="396.7" stroke="#1a1a1a" stroke-width="1.0"/>
<text x="202.1" y="399.1" font-size="6.3" text-anchor="end" fill="#333" stroke="#333" stroke-width="0.12" textLength="6.2" lengthAdjust="spacingAndGlyphs">20</text>
<line x1="205.7" y1="375.6" x2="208.5" y2="375.6" stroke="#1a1a1a" stroke-width="1.0"/>
<text x="202.1" y="378" font-size="6.3" text-anchor="end" fill="#333" stroke="#333" stroke-width="0.12" textLength="6.2" lengthAdjust="spacingAndGlyphs">25</text>
<line x1="206.9" y1="470.55" x2="208.5" y2="470.55" stroke="#1a1a1a" stroke-width="0.9"/>
<line x1="206.9" y1="449.45" x2="208.5" y2="449.45" stroke="#1a1a1a" stroke-width="0.9"/>
<line x1="206.9" y1="428.35" x2="208.5" y2="428.35" stroke="#1a1a1a" stroke-width="0.9"/>
<line x1="206.9" y1="407.25" x2="208.5" y2="407.25" stroke="#1a1a1a" stroke-width="0.9"/>
<line x1="206.9" y1="386.15" x2="208.5" y2="386.15" stroke="#1a1a1a" stroke-width="0.9"/>
<path d="M214.7 481.1V440.5H227.9V481.1" fill="none" stroke="#7088b6" stroke-width="1.25"/>
<path d="M234.3 481.1V410.4H247.3V481.1" fill="none" stroke="#bf4467" stroke-width="1.25"/>
<line x1="221.4" y1="481.1" x2="221.4" y2="483.9" stroke="#1a1a1a" stroke-width="1.0"/>
<line x1="241.1" y1="481.1" x2="241.1" y2="483.9" stroke="#1a1a1a" stroke-width="1.0"/>
<line x1="221.1" y1="425.3" x2="221.1" y2="454.3" stroke="#7088b6" stroke-width="1.2"/>
<line x1="217.9" y1="425.3" x2="224.3" y2="425.3" stroke="#7088b6" stroke-width="1.2"/>
<line x1="217.9" y1="454.3" x2="224.3" y2="454.3" stroke="#7088b6" stroke-width="1.2"/>
<line x1="241.1" y1="400" x2="241.1" y2="420" stroke="#bf4467" stroke-width="1.2"/>
<line x1="237.9" y1="400" x2="244.3" y2="400" stroke="#bf4467" stroke-width="1.2"/>
<line x1="237.9" y1="420" x2="244.3" y2="420" stroke="#bf4467" stroke-width="1.2"/>
<circle cx="216.9" cy="434.9" r="1.4" fill="#000"/>
<circle cx="221.5" cy="437.3" r="1.4" fill="#000"/>
<circle cx="225.5" cy="433.3" r="1.4" fill="#000"/>
<circle cx="240.9" cy="401" r="1.4" fill="#000"/>
<circle cx="240.9" cy="412" r="1.4" fill="#000"/>
<path d="M221.5 451.28L223 453.98L220 453.98Z" fill="#000"/>
<path d="M238.9 413.38L240.4 416.08L237.4 416.08Z" fill="#000"/>
<path d="M242.3 410.98L243.8 413.68L240.8 413.68Z" fill="#000"/>
<path d="M219.7 390.8V387.6H240.9V390.8" fill="none" stroke="#4a4a4a" stroke-width="1.25"/>
<text x="230.3" y="387.9" font-size="5.5" text-anchor="middle" fill="#333" stroke="#333" stroke-width="0.12" >**</text>
<text x="215.2" y="365.6" font-size="8.1" text-anchor="start" fill="#222" stroke="#222" stroke-width="0.12" textLength="31.9" lengthAdjust="spacingAndGlyphs">Mac NHI</text>
<text x="0" y="0" font-size="8.7" text-anchor="middle" fill="#222" stroke="#222" stroke-width="0.04" transform="translate(192,427) rotate(-90)">μg/mg protein</text>
<text x="221.9" y="491.8" font-size="6.0" text-anchor="middle" fill="#222" stroke="#222" stroke-width="0.12" textLength="9.2" lengthAdjust="spacingAndGlyphs">WT</text>
<text x="241.1" y="491.8" font-size="6.0" text-anchor="middle" fill="#222" stroke="#222" stroke-width="0.12" textLength="19.7" lengthAdjust="spacingAndGlyphs">Fpn KO</text>
<line x1="296.4" y1="373.4" x2="296.4" y2="481.7" stroke="#1a1a1a" stroke-width="1.3"/>
<line x1="295.8" y1="481.1" x2="341.8" y2="481.1" stroke="#1a1a1a" stroke-width="1.3"/>
<line x1="293.6" y1="481.1" x2="296.4" y2="481.1" stroke="#1a1a1a" stroke-width="1.0"/>
<text x="290" y="483.5" font-size="6.3" text-anchor="end" fill="#333" stroke="#333" stroke-width="0.12" textLength="3.1" lengthAdjust="spacingAndGlyphs">0</text>
<line x1="293.6" y1="454.76" x2="296.4" y2="454.76" stroke="#1a1a1a" stroke-width="1.0"/>
<text x="290" y="457.16" font-size="6.3" text-anchor="end" fill="#333" stroke="#333" stroke-width="0.12" textLength="6.2" lengthAdjust="spacingAndGlyphs">20</text>
<line x1="293.6" y1="428.42" x2="296.4" y2="428.42" stroke="#1a1a1a" stroke-width="1.0"/>
<text x="290" y="430.82" font-size="6.3" text-anchor="end" fill="#333" stroke="#333" stroke-width="0.12" textLength="6.2" lengthAdjust="spacingAndGlyphs">40</text>
<line x1="293.6" y1="402.08" x2="296.4" y2="402.08" stroke="#1a1a1a" stroke-width="1.0"/>
<text x="290" y="404.48" font-size="6.3" text-anchor="end" fill="#333" stroke="#333" stroke-width="0.12" textLength="6.2" lengthAdjust="spacingAndGlyphs">60</text>
<line x1="293.6" y1="375.74" x2="296.4" y2="375.74" stroke="#1a1a1a" stroke-width="1.0"/>
<text x="290" y="378.14" font-size="6.3" text-anchor="end" fill="#333" stroke="#333" stroke-width="0.12" textLength="6.2" lengthAdjust="spacingAndGlyphs">80</text>
<line x1="294.8" y1="474.52" x2="296.4" y2="474.52" stroke="#1a1a1a" stroke-width="0.9"/>
<line x1="294.8" y1="467.93" x2="296.4" y2="467.93" stroke="#1a1a1a" stroke-width="0.9"/>
<line x1="294.8" y1="461.35" x2="296.4" y2="461.35" stroke="#1a1a1a" stroke-width="0.9"/>
<line x1="294.8" y1="448.18" x2="296.4" y2="448.18" stroke="#1a1a1a" stroke-width="0.9"/>
<line x1="294.8" y1="441.59" x2="296.4" y2="441.59" stroke="#1a1a1a" stroke-width="0.9"/>
<line x1="294.8" y1="435" x2="296.4" y2="435" stroke="#1a1a1a" stroke-width="0.9"/>
<line x1="294.8" y1="421.84" x2="296.4" y2="421.84" stroke="#1a1a1a" stroke-width="0.9"/>
<line x1="294.8" y1="415.25" x2="296.4" y2="415.25" stroke="#1a1a1a" stroke-width="0.9"/>
<line x1="294.8" y1="408.67" x2="296.4" y2="408.67" stroke="#1a1a1a" stroke-width="0.9"/>
<line x1="294.8" y1="395.5" x2="296.4" y2="395.5" stroke="#1a1a1a" stroke-width="0.9"/>
<line x1="294.8" y1="388.91" x2="296.4" y2="388.91" stroke="#1a1a1a" stroke-width="0.9"/>
<line x1="294.8" y1="382.33" x2="296.4" y2="382.33" stroke="#1a1a1a" stroke-width="0.9"/>
<path d="M302.9 481.1V454.6H315.9V481.1" fill="none" stroke="#7088b6" stroke-width="1.25"/>
<path d="M322.4 481.1V415.5H335.5V481.1" fill="none" stroke="#bf4467" stroke-width="1.25"/>
<line x1="309.4" y1="481.1" x2="309.4" y2="483.9" stroke="#1a1a1a" stroke-width="1.0"/>
<line x1="328.8" y1="481.1" x2="328.8" y2="483.9" stroke="#1a1a1a" stroke-width="1.0"/>
<line x1="309.6" y1="441.3" x2="309.6" y2="466.7" stroke="#7088b6" stroke-width="1.2"/>
<line x1="306.4" y1="441.3" x2="312.8" y2="441.3" stroke="#7088b6" stroke-width="1.2"/>
<line x1="306.4" y1="466.7" x2="312.8" y2="466.7" stroke="#7088b6" stroke-width="1.2"/>
<line x1="329.1" y1="395.5" x2="329.1" y2="435" stroke="#bf4467" stroke-width="1.2"/>
<line x1="325.9" y1="395.5" x2="332.3" y2="395.5" stroke="#bf4467" stroke-width="1.2"/>
<line x1="325.9" y1="435" x2="332.3" y2="435" stroke="#bf4467" stroke-width="1.2"/>
<circle cx="305.2" cy="450.2" r="1.4" fill="#000"/>
<circle cx="309.9" cy="451.2" r="1.4" fill="#000"/>
<circle cx="314.1" cy="448.9" r="1.4" fill="#000"/>
<path d="M309.9 464.28L311.4 466.98L308.4 466.98Z" fill="#000"/>
<path d="M329 394.78L330.5 397.48L327.5 397.48Z" fill="#000"/>
<path d="M325.1 419.28L326.6 421.98L323.6 421.98Z" fill="#000"/>
<path d="M329 420.18L330.5 422.88L327.5 422.88Z" fill="#000"/>
<path d="M333.2 419.28L334.7 421.98L331.7 421.98Z" fill="#000"/>
<path d="M305.5 385.7V382.5H329.7V385.7" fill="none" stroke="#4a4a4a" stroke-width="1.25"/>
<text x="317.6" y="382.8" font-size="5.5" text-anchor="middle" fill="#333" stroke="#333" stroke-width="0.12" >**</text>
<text x="297.3" y="365.6" font-size="8.1" text-anchor="start" fill="#222" stroke="#222" stroke-width="0.12" textLength="43.6" lengthAdjust="spacingAndGlyphs">Mac Ferritin</text>
<text x="0" y="0" font-size="8.7" text-anchor="middle" fill="#222" stroke="#222" stroke-width="0.04" transform="translate(279.7,427.3) rotate(-90)">μg/mg portein</text>
<text x="309.3" y="491.9" font-size="6.0" text-anchor="middle" fill="#222" stroke="#222" stroke-width="0.12" textLength="9.2" lengthAdjust="spacingAndGlyphs">WT</text>
<text x="328.9" y="491.9" font-size="6.0" text-anchor="middle" fill="#222" stroke="#222" stroke-width="0.12" textLength="19.7" lengthAdjust="spacingAndGlyphs">Fpn KO</text>
<rect x="0.5" y="0.5" width="519" height="500" fill="none" stroke="#000" stroke-width="1.4"/>
</svg></body></html>
